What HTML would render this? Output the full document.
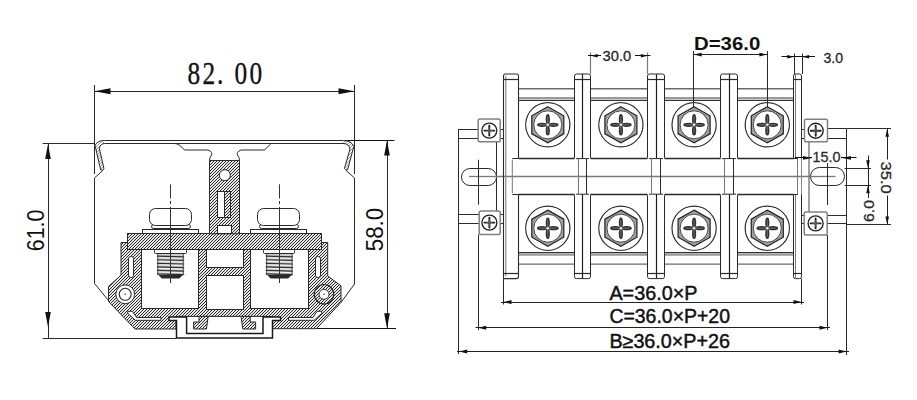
<!DOCTYPE html>
<html><head><meta charset="utf-8"><style>
html,body{margin:0;padding:0;background:#fff;}
svg{display:block;}
</style></head><body>
<svg width="917" height="400" viewBox="0 0 917 400" shape-rendering="geometricPrecision">
<defs>
<pattern id="h" width="3" height="3" patternUnits="userSpaceOnUse">
<rect width="3" height="3" fill="#e8e8e8"/>
<path d="M0,3 L3,0 M-1,1 L1,-1 M2,4 L4,2" stroke="#2a2a2a" stroke-width="1" shape-rendering="crispEdges"/>
</pattern>
</defs>
<rect width="917" height="400" fill="#fff"/>
<line x1="94.5" y1="85" x2="94.5" y2="143" stroke="#2a2a2a" stroke-width="1" />
<line x1="354.5" y1="85" x2="354.5" y2="140" stroke="#2a2a2a" stroke-width="1" />
<line x1="94.5" y1="91.5" x2="354.5" y2="91.5" stroke="#222" stroke-width="1" />
<polygon points="94.5,91.3 110.5,88.3 110.5,94.3" fill="#111"/>
<polygon points="354.5,91.3 338.5,88.3 338.5,94.3" fill="#111"/>
<text x="0" y="0" transform="translate(187.6,84) scale(0.78,1)" font-family="Liberation Serif" font-size="32.5" fill="#111" stroke="#111" stroke-width="0.35">8</text>
<text x="0" y="0" transform="translate(202.6,84) scale(0.78,1)" font-family="Liberation Serif" font-size="32.5" fill="#111" stroke="#111" stroke-width="0.35">2</text>
<text x="0" y="0" transform="translate(217,84) scale(0.78,1)" font-family="Liberation Serif" font-size="32.5" fill="#111" stroke="#111" stroke-width="0.35">.</text>
<text x="0" y="0" transform="translate(234.4,84) scale(0.78,1)" font-family="Liberation Serif" font-size="32.5" fill="#111" stroke="#111" stroke-width="0.35">0</text>
<text x="0" y="0" transform="translate(249.4,84) scale(0.78,1)" font-family="Liberation Serif" font-size="32.5" fill="#111" stroke="#111" stroke-width="0.35">0</text>
<line x1="42.7" y1="143.5" x2="94.5" y2="143.5" stroke="#2a2a2a" stroke-width="1" />
<line x1="42.7" y1="338.5" x2="176.5" y2="338.5" stroke="#2a2a2a" stroke-width="1" />
<line x1="48.5" y1="143.6" x2="48.5" y2="338" stroke="#2a2a2a" stroke-width="1" />
<polygon points="48,144 45.2,159 50.8,159" fill="#111"/>
<polygon points="48,327 45.2,312 50.8,312" fill="#111"/>
<text transform="translate(43.6,251.3) rotate(-90)" font-family="Liberation Sans" font-size="24" fill="#111" textLength="41.8" lengthAdjust="spacingAndGlyphs">61.0</text>
<line x1="345" y1="140.5" x2="394.5" y2="140.5" stroke="#111" stroke-width="1" />
<line x1="316" y1="328.5" x2="396" y2="328.5" stroke="#111" stroke-width="1" />
<line x1="387.5" y1="140" x2="387.5" y2="328.8" stroke="#2a2a2a" stroke-width="1" />
<polygon points="387,140 384.2,155.5 389.8,155.5" fill="#111"/>
<polygon points="387,328.3 384.2,313.3 389.8,313.3" fill="#111"/>
<text transform="translate(383.2,251.3) rotate(-90)" font-family="Liberation Sans" font-size="24" fill="#111" textLength="43.6" lengthAdjust="spacingAndGlyphs">58.0</text>
<line x1="94.5" y1="143" x2="94.5" y2="174" stroke="#2a2a2a" stroke-width="1" />
<line x1="94.5" y1="178" x2="94.5" y2="283.5" stroke="#2a2a2a" stroke-width="1" />
<line x1="94.5" y1="283.5" x2="108.5" y2="300.5" stroke="#2a2a2a" stroke-width="1" />
<line x1="103" y1="170.4" x2="94.5" y2="177.9" stroke="#2a2a2a" stroke-width="1" />
<line x1="354.5" y1="140" x2="354.5" y2="174" stroke="#2a2a2a" stroke-width="1" />
<line x1="354.5" y1="178" x2="354.5" y2="284" stroke="#2a2a2a" stroke-width="1" />
<line x1="354.5" y1="284" x2="341" y2="302.4" stroke="#2a2a2a" stroke-width="1" />
<line x1="346" y1="170.4" x2="354.5" y2="177.9" stroke="#2a2a2a" stroke-width="1" />
<path d="M104.3,140.5 H343.5" fill="none" stroke="#2a2a2a" stroke-width="1" />
<path d="M104.8,143.5 H343.2" fill="none" stroke="#2a2a2a" stroke-width="1" />
<path d="M174.8,143.5 Q179,143.5 184.5,150 H208 Q213,152 211.5,155 Q209.5,157.5 209.5,160.5 H239.5 Q239.5,157.5 237.5,155 Q236,152 241,150 H264.6 L271,143.5" fill="none" stroke="#2a2a2a" stroke-width="1" />
<path d="M271,143.5 H345" fill="none" stroke="#2a2a2a" stroke-width="1" />
<path d="M104.3,140.5 Q97.5,140.5 95,145.4 L100.7,170 Q102.8,170.6 104,168.8 L99.3,148.3 Q100.5,143.5 104.8,143.5" fill="url(#h)" stroke="#2a2a2a" stroke-width="1" fill-opacity="0.45"/>
<path d="M343.5,140.5 Q351.5,140.5 353.8,146.5 L347.6,169.8 Q345.5,170.6 344.4,168.6 L350,149 Q348.6,143.5 343.2,143.5" fill="url(#h)" stroke="#2a2a2a" stroke-width="1" fill-opacity="0.45"/>
<path d="M121,242.5 H327.7 V276 L341,285.8 V302.4 L316.4,328.7 H272.5 V316.4 H176 V329 H135 L108.5,301.5 V286.5 L121,275.2 Z" fill="url(#h)" stroke="#2a2a2a" stroke-width="1" />
<path d="M199,316.4 H208.2 L206.4,329 H193.6 V322 H199 Z" fill="url(#h)" stroke="#2a2a2a" stroke-width="1" />
<path d="M250.2,316.4 H241 L242.8,329 H255.6 V322 H250.2 Z" fill="url(#h)" stroke="#2a2a2a" stroke-width="1" />
<rect x="141.5" y="249.5" width="57.0" height="59.0" rx="0" fill="#fff" stroke="#2a2a2a" stroke-width="1"/>
<rect x="250.5" y="249.5" width="58.0" height="59.0" rx="0" fill="#fff" stroke="#2a2a2a" stroke-width="1"/>
<rect x="206.5" y="249.5" width="37.0" height="18.0" rx="0" fill="#fff" stroke="#2a2a2a" stroke-width="1"/>
<rect x="206.5" y="275.5" width="37.0" height="34.0" rx="0" fill="#fff" stroke="#2a2a2a" stroke-width="1"/>
<circle cx="125.2" cy="294.3" r="9.4" fill="#fff" stroke="#2a2a2a" stroke-width="1"/>
<circle cx="125.2" cy="294.3" r="6.0" fill="none" stroke="#2a2a2a" stroke-width="1.1"/>
<circle cx="125.2" cy="294.3" r="0.8" fill="#444" stroke="none" stroke-width="1"/>
<circle cx="324.0" cy="294.3" r="9.8" fill="none" stroke="#222" stroke-width="1.2"/>
<circle cx="324.0" cy="294.3" r="5.0" fill="#fff" stroke="#333" stroke-width="1"/>
<circle cx="324.0" cy="294.3" r="0.8" fill="#444" stroke="none" stroke-width="1"/>
<rect x="128.5" y="256.5" width="5.0" height="21.0" rx="2.3" fill="#fff" stroke="#2a2a2a" stroke-width="1"/>
<rect x="315.5" y="256.5" width="5.0" height="21.0" rx="2.3" fill="#fff" stroke="#2a2a2a" stroke-width="1"/>
<path d="M127.8,311.3 H132.4 L136.6,317.5 H161 V320.3 H135.4 L127.8,313.4 Z" fill="#fff" stroke="#2a2a2a" stroke-width="1" />
<path d="M321.7,311.3 H317.1 L312.9,317.5 H288.5 V320.3 H314.1 L321.7,313.4 Z" fill="#fff" stroke="#2a2a2a" stroke-width="1" />
<rect x="127.5" y="233.5" width="194.0" height="16.0" rx="0" fill="url(#h)" stroke="#2a2a2a" stroke-width="1"/>
<path d="M209.5,160.5 H239.5 V233.8 H209.5 Z" fill="url(#h)" stroke="#2a2a2a" stroke-width="1" />
<circle cx="224.8" cy="175.2" r="5.5" fill="#fff" stroke="#2a2a2a" stroke-width="1"/>
<rect x="217.5" y="191.5" width="13.0" height="26.0" rx="0" fill="#fff" stroke="#2a2a2a" stroke-width="1"/>
<rect x="224.5" y="191.5" width="6.0" height="26.0" rx="0" fill="url(#h)" stroke="#2a2a2a" stroke-width="1"/>
<rect x="217.5" y="225.5" width="14.0" height="8.0" rx="0" fill="#fff" stroke="#2a2a2a" stroke-width="1"/>
<rect x="142.5" y="229.5" width="56.0" height="4.0" rx="0" fill="#fff" stroke="#2a2a2a" stroke-width="1"/>
<rect x="250.5" y="229.5" width="56.0" height="4.0" rx="0" fill="#fff" stroke="#2a2a2a" stroke-width="1"/>
<rect x="151.5" y="224.5" width="39.0" height="4.0" rx="2" fill="#fff" stroke="#2a2a2a" stroke-width="1"/>
<rect x="149.5" y="208.5" width="42.0" height="17.0" rx="6" fill="#fff" stroke="#2a2a2a" stroke-width="1"/>
<rect x="259.5" y="224.5" width="39.0" height="4.0" rx="2" fill="#fff" stroke="#2a2a2a" stroke-width="1"/>
<rect x="257.5" y="208.5" width="42.0" height="17.0" rx="6" fill="#fff" stroke="#2a2a2a" stroke-width="1"/>
<rect x="154.5" y="249.5" width="32.0" height="4.0" rx="1" fill="#fff" stroke="#2a2a2a" stroke-width="1"/>
<rect x="157.8" y="254" width="25.5" height="21" fill="#cdcdcd"/>
<path d="M156.9,256.2 L184.20000000000002,256.9" stroke="#2e2e2e" stroke-width="1.25"/>
<path d="M158.8,257.8 L182.3,258.4" stroke="#f4f4f4" stroke-width="0.9"/>
<path d="M156.9,259.75 L184.20000000000002,260.45" stroke="#2e2e2e" stroke-width="1.25"/>
<path d="M158.8,261.35 L182.3,261.95" stroke="#f4f4f4" stroke-width="0.9"/>
<path d="M156.9,263.3 L184.20000000000002,264.0" stroke="#2e2e2e" stroke-width="1.25"/>
<path d="M158.8,264.90000000000003 L182.3,265.5" stroke="#f4f4f4" stroke-width="0.9"/>
<path d="M156.9,266.84999999999997 L184.20000000000002,267.54999999999995" stroke="#2e2e2e" stroke-width="1.25"/>
<path d="M158.8,268.45 L182.3,269.04999999999995" stroke="#f4f4f4" stroke-width="0.9"/>
<path d="M156.9,270.4 L184.20000000000002,271.09999999999997" stroke="#2e2e2e" stroke-width="1.25"/>
<path d="M158.8,272.0 L182.3,272.59999999999997" stroke="#f4f4f4" stroke-width="0.9"/>
<path d="M156.9,273.95 L184.20000000000002,274.65" stroke="#2e2e2e" stroke-width="1.25"/>
<path d="M158.8,275.55 L182.3,276.15" stroke="#f4f4f4" stroke-width="0.9"/>
<path d="M157.8,254 V275 M183.3,254 V275" stroke="#444" stroke-width="0.9"/>
<polygon points="158.3,275 182.8,275 179.3,278.6 161.8,278.6" fill="#2a2a2a"/>
<rect x="263.5" y="249.5" width="31.0" height="4.0" rx="1" fill="#fff" stroke="#2a2a2a" stroke-width="1"/>
<rect x="266.59999999999997" y="254" width="25.5" height="21" fill="#cdcdcd"/>
<path d="M265.7,256.2 L292.99999999999994,256.9" stroke="#2e2e2e" stroke-width="1.25"/>
<path d="M267.59999999999997,257.8 L291.09999999999997,258.4" stroke="#f4f4f4" stroke-width="0.9"/>
<path d="M265.7,259.75 L292.99999999999994,260.45" stroke="#2e2e2e" stroke-width="1.25"/>
<path d="M267.59999999999997,261.35 L291.09999999999997,261.95" stroke="#f4f4f4" stroke-width="0.9"/>
<path d="M265.7,263.3 L292.99999999999994,264.0" stroke="#2e2e2e" stroke-width="1.25"/>
<path d="M267.59999999999997,264.90000000000003 L291.09999999999997,265.5" stroke="#f4f4f4" stroke-width="0.9"/>
<path d="M265.7,266.84999999999997 L292.99999999999994,267.54999999999995" stroke="#2e2e2e" stroke-width="1.25"/>
<path d="M267.59999999999997,268.45 L291.09999999999997,269.04999999999995" stroke="#f4f4f4" stroke-width="0.9"/>
<path d="M265.7,270.4 L292.99999999999994,271.09999999999997" stroke="#2e2e2e" stroke-width="1.25"/>
<path d="M267.59999999999997,272.0 L291.09999999999997,272.59999999999997" stroke="#f4f4f4" stroke-width="0.9"/>
<path d="M265.7,273.95 L292.99999999999994,274.65" stroke="#2e2e2e" stroke-width="1.25"/>
<path d="M267.59999999999997,275.55 L291.09999999999997,276.15" stroke="#f4f4f4" stroke-width="0.9"/>
<path d="M266.59999999999997,254 V275 M292.09999999999997,254 V275" stroke="#444" stroke-width="0.9"/>
<polygon points="267.09999999999997,275 291.59999999999997,275 288.09999999999997,278.6 270.59999999999997,278.6" fill="#2a2a2a"/>
<line x1="170.5" y1="184.3" x2="170.5" y2="198.5" stroke="#333" stroke-width="1" />
<line x1="170.5" y1="201" x2="170.5" y2="204.2" stroke="#333" stroke-width="1" />
<line x1="170.5" y1="207" x2="170.5" y2="283" stroke="#333" stroke-width="1" />
<line x1="279.5" y1="184.3" x2="279.5" y2="198.5" stroke="#333" stroke-width="1" />
<line x1="279.5" y1="201" x2="279.5" y2="204.2" stroke="#333" stroke-width="1" />
<line x1="279.5" y1="207" x2="279.5" y2="283" stroke="#333" stroke-width="1" />
<path d="M169,317 H186.6 V333.5 H263 V317 H280.5 V320.5 H272.5 V338 H176.5 V320.5 H169 Z" fill="#fff" stroke="#1a1a1a" stroke-width="1.5" />
<line x1="518.5" y1="88.7" x2="574.5" y2="88.7" stroke="#6a6a6a" stroke-width="1.4" />
<line x1="518.5" y1="264.1" x2="574.5" y2="264.1" stroke="#6a6a6a" stroke-width="1.4" />
<line x1="518.5" y1="98.3" x2="574.5" y2="98.3" stroke="#9a9a9a" stroke-width="2.6" />
<line x1="518.5" y1="254.5" x2="574.5" y2="254.5" stroke="#9a9a9a" stroke-width="2.6" />
<line x1="518.5" y1="100.5" x2="574.5" y2="100.5" stroke="#333" stroke-width="1" />
<line x1="518.5" y1="252.5" x2="574.5" y2="252.5" stroke="#333" stroke-width="1" />
<line x1="518.5" y1="158.5" x2="574.5" y2="158.5" stroke="#2a2a2a" stroke-width="1.3" />
<line x1="518.5" y1="194.5" x2="574.5" y2="194.5" stroke="#2a2a2a" stroke-width="1.3" />
<line x1="590.5" y1="88.7" x2="647.5" y2="88.7" stroke="#6a6a6a" stroke-width="1.4" />
<line x1="590.5" y1="264.1" x2="647.5" y2="264.1" stroke="#6a6a6a" stroke-width="1.4" />
<line x1="590.5" y1="98.3" x2="647.5" y2="98.3" stroke="#9a9a9a" stroke-width="2.6" />
<line x1="590.5" y1="254.5" x2="647.5" y2="254.5" stroke="#9a9a9a" stroke-width="2.6" />
<line x1="590.5" y1="100.5" x2="647.5" y2="100.5" stroke="#333" stroke-width="1" />
<line x1="590.5" y1="252.5" x2="647.5" y2="252.5" stroke="#333" stroke-width="1" />
<line x1="590.5" y1="158.5" x2="647.5" y2="158.5" stroke="#2a2a2a" stroke-width="1.3" />
<line x1="590.5" y1="194.5" x2="647.5" y2="194.5" stroke="#2a2a2a" stroke-width="1.3" />
<line x1="664.5" y1="88.7" x2="720.5" y2="88.7" stroke="#6a6a6a" stroke-width="1.4" />
<line x1="664.5" y1="264.1" x2="720.5" y2="264.1" stroke="#6a6a6a" stroke-width="1.4" />
<line x1="664.5" y1="98.3" x2="720.5" y2="98.3" stroke="#9a9a9a" stroke-width="2.6" />
<line x1="664.5" y1="254.5" x2="720.5" y2="254.5" stroke="#9a9a9a" stroke-width="2.6" />
<line x1="664.5" y1="100.5" x2="720.5" y2="100.5" stroke="#333" stroke-width="1" />
<line x1="664.5" y1="252.5" x2="720.5" y2="252.5" stroke="#333" stroke-width="1" />
<line x1="664.5" y1="158.5" x2="720.5" y2="158.5" stroke="#2a2a2a" stroke-width="1.3" />
<line x1="664.5" y1="194.5" x2="720.5" y2="194.5" stroke="#2a2a2a" stroke-width="1.3" />
<line x1="737.5" y1="88.7" x2="793.5" y2="88.7" stroke="#6a6a6a" stroke-width="1.4" />
<line x1="737.5" y1="264.1" x2="793.5" y2="264.1" stroke="#6a6a6a" stroke-width="1.4" />
<line x1="737.5" y1="98.3" x2="793.5" y2="98.3" stroke="#9a9a9a" stroke-width="2.6" />
<line x1="737.5" y1="254.5" x2="793.5" y2="254.5" stroke="#9a9a9a" stroke-width="2.6" />
<line x1="737.5" y1="100.5" x2="793.5" y2="100.5" stroke="#333" stroke-width="1" />
<line x1="737.5" y1="252.5" x2="793.5" y2="252.5" stroke="#333" stroke-width="1" />
<line x1="737.5" y1="158.5" x2="793.5" y2="158.5" stroke="#2a2a2a" stroke-width="1.3" />
<line x1="737.5" y1="194.5" x2="793.5" y2="194.5" stroke="#2a2a2a" stroke-width="1.3" />
<line x1="512.3" y1="158.5" x2="518.2" y2="158.5" stroke="#2a2a2a" stroke-width="1" />
<line x1="512.3" y1="194.5" x2="518.2" y2="194.5" stroke="#2a2a2a" stroke-width="1" />
<path d="M512.3,159.6 V193.2" fill="none" stroke="#777" stroke-width="1" />
<line x1="470" y1="176.5" x2="836" y2="176.5" stroke="#7a7a7a" stroke-width="1.3" />
<path d="M503.5,278.6 V76 Q503.5,74 505.5,74 H516.5 Q518.5,74 518.5,76 V158.6" fill="none" stroke="#2a2a2a" stroke-width="1.1" />
<path d="M518.5,194.2 V276.6 Q518.5,278.6 516.5,278.6 H503.5" fill="none" stroke="#2a2a2a" stroke-width="1.1" />
<line x1="505.7" y1="76" x2="505.7" y2="276.6" stroke="#999" stroke-width="1.4" />
<line x1="503.5" y1="79.5" x2="518.5" y2="79.5" stroke="#2a2a2a" stroke-width="1.2" />
<line x1="503.5" y1="273.5" x2="518.5" y2="273.5" stroke="#2a2a2a" stroke-width="1.2" />
<path d="M574.5,157.1 V76 Q574.5,74 576.5,74 H588.5 Q590.5,74 590.5,76 V157.1 Q590.5,158.6 592.0,158.6 M574.5,157.1 Q574.5,158.6 573.0,158.6 M576.0,158.6 H589.0" fill="none" stroke="#2a2a2a" stroke-width="1" />
<line x1="574.5" y1="79.5" x2="590.5" y2="79.5" stroke="#2a2a2a" stroke-width="1.2" />
<line x1="582.5" y1="74" x2="582.5" y2="158.6" stroke="#1e1e1e" stroke-width="1.2" />
<path d="M574.5,195.7 V276.6 Q574.5,278.6 576.5,278.6 H588.5 Q590.5,278.6 590.5,276.6 V195.7 Q590.5,194.2 592.0,194.2 M574.5,195.7 Q574.5,194.2 573.0,194.2 M576.0,194.2 H589.0" fill="none" stroke="#2a2a2a" stroke-width="1" />
<line x1="574.5" y1="273.5" x2="590.5" y2="273.5" stroke="#2a2a2a" stroke-width="1.2" />
<line x1="582.5" y1="194.2" x2="582.5" y2="278.6" stroke="#1e1e1e" stroke-width="1.2" />
<line x1="578.5" y1="158.6" x2="578.5" y2="194.2" stroke="#7a7a7a" stroke-width="1.1" />
<line x1="586.5" y1="158.6" x2="586.5" y2="194.2" stroke="#2a2a2a" stroke-width="1" />
<path d="M647.5,157.1 V76 Q647.5,74 649.5,74 H662.5 Q664.5,74 664.5,76 V157.1 Q664.5,158.6 666.0,158.6 M647.5,157.1 Q647.5,158.6 646.0,158.6 M649.0,158.6 H663.0" fill="none" stroke="#2a2a2a" stroke-width="1" />
<line x1="647.5" y1="79.5" x2="664.5" y2="79.5" stroke="#2a2a2a" stroke-width="1.2" />
<line x1="656.5" y1="74" x2="656.5" y2="158.6" stroke="#1e1e1e" stroke-width="1.2" />
<path d="M647.5,195.7 V276.6 Q647.5,278.6 649.5,278.6 H662.5 Q664.5,278.6 664.5,276.6 V195.7 Q664.5,194.2 666.0,194.2 M647.5,195.7 Q647.5,194.2 646.0,194.2 M649.0,194.2 H663.0" fill="none" stroke="#2a2a2a" stroke-width="1" />
<line x1="647.5" y1="273.5" x2="664.5" y2="273.5" stroke="#2a2a2a" stroke-width="1.2" />
<line x1="656.5" y1="194.2" x2="656.5" y2="278.6" stroke="#1e1e1e" stroke-width="1.2" />
<line x1="651.5" y1="158.6" x2="651.5" y2="194.2" stroke="#7a7a7a" stroke-width="1.1" />
<line x1="660.5" y1="158.6" x2="660.5" y2="194.2" stroke="#2a2a2a" stroke-width="1" />
<path d="M720.5,157.1 V76 Q720.5,74 722.5,74 H735.5 Q737.5,74 737.5,76 V157.1 Q737.5,158.6 739.0,158.6 M720.5,157.1 Q720.5,158.6 719.0,158.6 M722.0,158.6 H736.0" fill="none" stroke="#2a2a2a" stroke-width="1" />
<line x1="720.5" y1="79.5" x2="737.5" y2="79.5" stroke="#2a2a2a" stroke-width="1.2" />
<line x1="729.5" y1="74" x2="729.5" y2="158.6" stroke="#1e1e1e" stroke-width="1.2" />
<path d="M720.5,195.7 V276.6 Q720.5,278.6 722.5,278.6 H735.5 Q737.5,278.6 737.5,276.6 V195.7 Q737.5,194.2 739.0,194.2 M720.5,195.7 Q720.5,194.2 719.0,194.2 M722.0,194.2 H736.0" fill="none" stroke="#2a2a2a" stroke-width="1" />
<line x1="720.5" y1="273.5" x2="737.5" y2="273.5" stroke="#2a2a2a" stroke-width="1.2" />
<line x1="729.5" y1="194.2" x2="729.5" y2="278.6" stroke="#1e1e1e" stroke-width="1.2" />
<line x1="724.5" y1="158.6" x2="724.5" y2="194.2" stroke="#7a7a7a" stroke-width="1.1" />
<line x1="733.5" y1="158.6" x2="733.5" y2="194.2" stroke="#2a2a2a" stroke-width="1" />
<path d="M793.5,158.6 V76 Q793.5,74 795.5,74 H799.5 Q801.5,74 801.5,76 V158.6" fill="none" stroke="#2a2a2a" stroke-width="1" />
<path d="M793.5,194.2 V276.6 Q793.5,278.6 795.5,278.6 H799.5 Q801.5,278.6 801.5,276.6 V194.2" fill="none" stroke="#2a2a2a" stroke-width="1" />
<line x1="795.5" y1="74" x2="795.5" y2="158.6" stroke="#7a7a7a" stroke-width="1" />
<line x1="795.5" y1="194.2" x2="795.5" y2="278.6" stroke="#7a7a7a" stroke-width="1" />
<line x1="801.5" y1="158.6" x2="801.5" y2="194.2" stroke="#888" stroke-width="1" />
<line x1="793.5" y1="79.5" x2="801.5" y2="79.5" stroke="#2a2a2a" stroke-width="1.2" />
<line x1="793.5" y1="273.5" x2="801.5" y2="273.5" stroke="#2a2a2a" stroke-width="1.2" />
<circle cx="547.8" cy="124.8" r="22.1" fill="none" stroke="#333" stroke-width="1.25"/>
<polygon points="547.80,106.70 563.80,115.75 563.80,133.85 547.80,142.90 531.80,133.85 531.80,115.75" fill="#8e8e8e" stroke="none"/>
<line x1="561.27" y1="125.68" x2="566.76" y2="126.04" stroke="#c8c8c8" stroke-width="0.7"/>
<line x1="561.04" y1="127.43" x2="566.43" y2="128.51" stroke="#c8c8c8" stroke-width="0.7"/>
<line x1="560.58" y1="129.14" x2="565.79" y2="130.91" stroke="#c8c8c8" stroke-width="0.7"/>
<line x1="559.91" y1="130.77" x2="564.84" y2="133.20" stroke="#c8c8c8" stroke-width="0.7"/>
<line x1="559.02" y1="132.30" x2="563.60" y2="135.36" stroke="#c8c8c8" stroke-width="0.7"/>
<line x1="557.95" y1="133.70" x2="562.08" y2="137.33" stroke="#c8c8c8" stroke-width="0.7"/>
<line x1="556.70" y1="134.95" x2="560.33" y2="139.08" stroke="#c8c8c8" stroke-width="0.7"/>
<line x1="555.30" y1="136.02" x2="558.36" y2="140.60" stroke="#c8c8c8" stroke-width="0.7"/>
<line x1="553.77" y1="136.91" x2="556.20" y2="141.84" stroke="#c8c8c8" stroke-width="0.7"/>
<line x1="552.14" y1="137.58" x2="553.91" y2="142.79" stroke="#c8c8c8" stroke-width="0.7"/>
<line x1="550.43" y1="138.04" x2="551.51" y2="143.43" stroke="#c8c8c8" stroke-width="0.7"/>
<line x1="548.68" y1="138.27" x2="549.04" y2="143.76" stroke="#c8c8c8" stroke-width="0.7"/>
<line x1="546.92" y1="138.27" x2="546.56" y2="143.76" stroke="#c8c8c8" stroke-width="0.7"/>
<line x1="545.17" y1="138.04" x2="544.09" y2="143.43" stroke="#c8c8c8" stroke-width="0.7"/>
<line x1="543.46" y1="137.58" x2="541.69" y2="142.79" stroke="#c8c8c8" stroke-width="0.7"/>
<line x1="541.83" y1="136.91" x2="539.40" y2="141.84" stroke="#c8c8c8" stroke-width="0.7"/>
<line x1="540.30" y1="136.02" x2="537.24" y2="140.60" stroke="#c8c8c8" stroke-width="0.7"/>
<line x1="538.90" y1="134.95" x2="535.27" y2="139.08" stroke="#c8c8c8" stroke-width="0.7"/>
<line x1="537.65" y1="133.70" x2="533.52" y2="137.33" stroke="#c8c8c8" stroke-width="0.7"/>
<line x1="536.58" y1="132.30" x2="532.00" y2="135.36" stroke="#c8c8c8" stroke-width="0.7"/>
<line x1="535.69" y1="130.77" x2="530.76" y2="133.20" stroke="#c8c8c8" stroke-width="0.7"/>
<line x1="535.02" y1="129.14" x2="529.81" y2="130.91" stroke="#c8c8c8" stroke-width="0.7"/>
<line x1="534.56" y1="127.43" x2="529.17" y2="128.51" stroke="#c8c8c8" stroke-width="0.7"/>
<line x1="534.33" y1="125.68" x2="528.84" y2="126.04" stroke="#c8c8c8" stroke-width="0.7"/>
<line x1="534.33" y1="123.92" x2="528.84" y2="123.56" stroke="#c8c8c8" stroke-width="0.7"/>
<line x1="534.56" y1="122.17" x2="529.17" y2="121.09" stroke="#c8c8c8" stroke-width="0.7"/>
<line x1="535.02" y1="120.46" x2="529.81" y2="118.69" stroke="#c8c8c8" stroke-width="0.7"/>
<line x1="535.69" y1="118.83" x2="530.76" y2="116.40" stroke="#c8c8c8" stroke-width="0.7"/>
<line x1="536.58" y1="117.30" x2="532.00" y2="114.24" stroke="#c8c8c8" stroke-width="0.7"/>
<line x1="537.65" y1="115.90" x2="533.52" y2="112.27" stroke="#c8c8c8" stroke-width="0.7"/>
<line x1="538.90" y1="114.65" x2="535.27" y2="110.52" stroke="#c8c8c8" stroke-width="0.7"/>
<line x1="540.30" y1="113.58" x2="537.24" y2="109.00" stroke="#c8c8c8" stroke-width="0.7"/>
<line x1="541.83" y1="112.69" x2="539.40" y2="107.76" stroke="#c8c8c8" stroke-width="0.7"/>
<line x1="543.46" y1="112.02" x2="541.69" y2="106.81" stroke="#c8c8c8" stroke-width="0.7"/>
<line x1="545.17" y1="111.56" x2="544.09" y2="106.17" stroke="#c8c8c8" stroke-width="0.7"/>
<line x1="546.92" y1="111.33" x2="546.56" y2="105.84" stroke="#c8c8c8" stroke-width="0.7"/>
<line x1="548.68" y1="111.33" x2="549.04" y2="105.84" stroke="#c8c8c8" stroke-width="0.7"/>
<line x1="550.43" y1="111.56" x2="551.51" y2="106.17" stroke="#c8c8c8" stroke-width="0.7"/>
<line x1="552.14" y1="112.02" x2="553.91" y2="106.81" stroke="#c8c8c8" stroke-width="0.7"/>
<line x1="553.77" y1="112.69" x2="556.20" y2="107.76" stroke="#c8c8c8" stroke-width="0.7"/>
<line x1="555.30" y1="113.58" x2="558.36" y2="109.00" stroke="#c8c8c8" stroke-width="0.7"/>
<line x1="556.70" y1="114.65" x2="560.33" y2="110.52" stroke="#c8c8c8" stroke-width="0.7"/>
<line x1="557.95" y1="115.90" x2="562.08" y2="112.27" stroke="#c8c8c8" stroke-width="0.7"/>
<line x1="559.02" y1="117.30" x2="563.60" y2="114.24" stroke="#c8c8c8" stroke-width="0.7"/>
<line x1="559.91" y1="118.83" x2="564.84" y2="116.40" stroke="#c8c8c8" stroke-width="0.7"/>
<line x1="560.58" y1="120.46" x2="565.79" y2="118.69" stroke="#c8c8c8" stroke-width="0.7"/>
<line x1="561.04" y1="122.17" x2="566.43" y2="121.09" stroke="#c8c8c8" stroke-width="0.7"/>
<line x1="561.27" y1="123.92" x2="566.76" y2="123.56" stroke="#c8c8c8" stroke-width="0.7"/>
<path d="M526.5999999999999,124.8 A21.2,21.2 0 1,0 569.0,124.8 A21.2,21.2 0 1,0 526.5999999999999,124.8 Z M547.80,106.70 L563.80,115.75 L563.80,133.85 L547.80,142.90 L531.80,133.85 L531.80,115.75 Z" fill="#fff" fill-rule="evenodd"/>
<polygon points="547.80,106.70 563.80,115.75 563.80,133.85 547.80,142.90 531.80,133.85 531.80,115.75" fill="none" stroke="#262626" stroke-width="1.25"/>
<circle cx="547.8" cy="124.8" r="14.0" fill="#fff" stroke="#3a3a3a" stroke-width="0.9"/>
<ellipse cx="553.40" cy="124.80" rx="5.2" ry="2.1" fill="#333"/>
<ellipse cx="542.20" cy="124.80" rx="5.2" ry="2.1" fill="#333"/>
<ellipse cx="547.80" cy="130.40" rx="2.1" ry="5.2" fill="#333"/>
<ellipse cx="547.80" cy="119.20" rx="2.1" ry="5.2" fill="#333"/>
<path d="M539.3,124.8 H556.3 M547.8,116.3 V133.3" stroke="#8a8a8a" stroke-width="0.7"/>
<circle cx="547.8" cy="124.8" r="1.3" fill="#e8e8e8"/>
<circle cx="547.8" cy="228.2" r="22.1" fill="none" stroke="#333" stroke-width="1.25"/>
<polygon points="547.80,210.10 563.80,219.15 563.80,237.25 547.80,246.30 531.80,237.25 531.80,219.15" fill="#8e8e8e" stroke="none"/>
<line x1="561.27" y1="229.08" x2="566.76" y2="229.44" stroke="#c8c8c8" stroke-width="0.7"/>
<line x1="561.04" y1="230.83" x2="566.43" y2="231.91" stroke="#c8c8c8" stroke-width="0.7"/>
<line x1="560.58" y1="232.54" x2="565.79" y2="234.31" stroke="#c8c8c8" stroke-width="0.7"/>
<line x1="559.91" y1="234.17" x2="564.84" y2="236.60" stroke="#c8c8c8" stroke-width="0.7"/>
<line x1="559.02" y1="235.70" x2="563.60" y2="238.76" stroke="#c8c8c8" stroke-width="0.7"/>
<line x1="557.95" y1="237.10" x2="562.08" y2="240.73" stroke="#c8c8c8" stroke-width="0.7"/>
<line x1="556.70" y1="238.35" x2="560.33" y2="242.48" stroke="#c8c8c8" stroke-width="0.7"/>
<line x1="555.30" y1="239.42" x2="558.36" y2="244.00" stroke="#c8c8c8" stroke-width="0.7"/>
<line x1="553.77" y1="240.31" x2="556.20" y2="245.24" stroke="#c8c8c8" stroke-width="0.7"/>
<line x1="552.14" y1="240.98" x2="553.91" y2="246.19" stroke="#c8c8c8" stroke-width="0.7"/>
<line x1="550.43" y1="241.44" x2="551.51" y2="246.83" stroke="#c8c8c8" stroke-width="0.7"/>
<line x1="548.68" y1="241.67" x2="549.04" y2="247.16" stroke="#c8c8c8" stroke-width="0.7"/>
<line x1="546.92" y1="241.67" x2="546.56" y2="247.16" stroke="#c8c8c8" stroke-width="0.7"/>
<line x1="545.17" y1="241.44" x2="544.09" y2="246.83" stroke="#c8c8c8" stroke-width="0.7"/>
<line x1="543.46" y1="240.98" x2="541.69" y2="246.19" stroke="#c8c8c8" stroke-width="0.7"/>
<line x1="541.83" y1="240.31" x2="539.40" y2="245.24" stroke="#c8c8c8" stroke-width="0.7"/>
<line x1="540.30" y1="239.42" x2="537.24" y2="244.00" stroke="#c8c8c8" stroke-width="0.7"/>
<line x1="538.90" y1="238.35" x2="535.27" y2="242.48" stroke="#c8c8c8" stroke-width="0.7"/>
<line x1="537.65" y1="237.10" x2="533.52" y2="240.73" stroke="#c8c8c8" stroke-width="0.7"/>
<line x1="536.58" y1="235.70" x2="532.00" y2="238.76" stroke="#c8c8c8" stroke-width="0.7"/>
<line x1="535.69" y1="234.17" x2="530.76" y2="236.60" stroke="#c8c8c8" stroke-width="0.7"/>
<line x1="535.02" y1="232.54" x2="529.81" y2="234.31" stroke="#c8c8c8" stroke-width="0.7"/>
<line x1="534.56" y1="230.83" x2="529.17" y2="231.91" stroke="#c8c8c8" stroke-width="0.7"/>
<line x1="534.33" y1="229.08" x2="528.84" y2="229.44" stroke="#c8c8c8" stroke-width="0.7"/>
<line x1="534.33" y1="227.32" x2="528.84" y2="226.96" stroke="#c8c8c8" stroke-width="0.7"/>
<line x1="534.56" y1="225.57" x2="529.17" y2="224.49" stroke="#c8c8c8" stroke-width="0.7"/>
<line x1="535.02" y1="223.86" x2="529.81" y2="222.09" stroke="#c8c8c8" stroke-width="0.7"/>
<line x1="535.69" y1="222.23" x2="530.76" y2="219.80" stroke="#c8c8c8" stroke-width="0.7"/>
<line x1="536.58" y1="220.70" x2="532.00" y2="217.64" stroke="#c8c8c8" stroke-width="0.7"/>
<line x1="537.65" y1="219.30" x2="533.52" y2="215.67" stroke="#c8c8c8" stroke-width="0.7"/>
<line x1="538.90" y1="218.05" x2="535.27" y2="213.92" stroke="#c8c8c8" stroke-width="0.7"/>
<line x1="540.30" y1="216.98" x2="537.24" y2="212.40" stroke="#c8c8c8" stroke-width="0.7"/>
<line x1="541.83" y1="216.09" x2="539.40" y2="211.16" stroke="#c8c8c8" stroke-width="0.7"/>
<line x1="543.46" y1="215.42" x2="541.69" y2="210.21" stroke="#c8c8c8" stroke-width="0.7"/>
<line x1="545.17" y1="214.96" x2="544.09" y2="209.57" stroke="#c8c8c8" stroke-width="0.7"/>
<line x1="546.92" y1="214.73" x2="546.56" y2="209.24" stroke="#c8c8c8" stroke-width="0.7"/>
<line x1="548.68" y1="214.73" x2="549.04" y2="209.24" stroke="#c8c8c8" stroke-width="0.7"/>
<line x1="550.43" y1="214.96" x2="551.51" y2="209.57" stroke="#c8c8c8" stroke-width="0.7"/>
<line x1="552.14" y1="215.42" x2="553.91" y2="210.21" stroke="#c8c8c8" stroke-width="0.7"/>
<line x1="553.77" y1="216.09" x2="556.20" y2="211.16" stroke="#c8c8c8" stroke-width="0.7"/>
<line x1="555.30" y1="216.98" x2="558.36" y2="212.40" stroke="#c8c8c8" stroke-width="0.7"/>
<line x1="556.70" y1="218.05" x2="560.33" y2="213.92" stroke="#c8c8c8" stroke-width="0.7"/>
<line x1="557.95" y1="219.30" x2="562.08" y2="215.67" stroke="#c8c8c8" stroke-width="0.7"/>
<line x1="559.02" y1="220.70" x2="563.60" y2="217.64" stroke="#c8c8c8" stroke-width="0.7"/>
<line x1="559.91" y1="222.23" x2="564.84" y2="219.80" stroke="#c8c8c8" stroke-width="0.7"/>
<line x1="560.58" y1="223.86" x2="565.79" y2="222.09" stroke="#c8c8c8" stroke-width="0.7"/>
<line x1="561.04" y1="225.57" x2="566.43" y2="224.49" stroke="#c8c8c8" stroke-width="0.7"/>
<line x1="561.27" y1="227.32" x2="566.76" y2="226.96" stroke="#c8c8c8" stroke-width="0.7"/>
<path d="M526.5999999999999,228.2 A21.2,21.2 0 1,0 569.0,228.2 A21.2,21.2 0 1,0 526.5999999999999,228.2 Z M547.80,210.10 L563.80,219.15 L563.80,237.25 L547.80,246.30 L531.80,237.25 L531.80,219.15 Z" fill="#fff" fill-rule="evenodd"/>
<polygon points="547.80,210.10 563.80,219.15 563.80,237.25 547.80,246.30 531.80,237.25 531.80,219.15" fill="none" stroke="#262626" stroke-width="1.25"/>
<circle cx="547.8" cy="228.2" r="14.0" fill="#fff" stroke="#3a3a3a" stroke-width="0.9"/>
<ellipse cx="553.40" cy="228.20" rx="5.2" ry="2.1" fill="#333"/>
<ellipse cx="542.20" cy="228.20" rx="5.2" ry="2.1" fill="#333"/>
<ellipse cx="547.80" cy="233.80" rx="2.1" ry="5.2" fill="#333"/>
<ellipse cx="547.80" cy="222.60" rx="2.1" ry="5.2" fill="#333"/>
<path d="M539.3,228.2 H556.3 M547.8,219.7 V236.7" stroke="#8a8a8a" stroke-width="0.7"/>
<circle cx="547.8" cy="228.2" r="1.3" fill="#e8e8e8"/>
<circle cx="620.9" cy="124.8" r="22.1" fill="none" stroke="#333" stroke-width="1.25"/>
<polygon points="620.90,106.70 636.90,115.75 636.90,133.85 620.90,142.90 604.90,133.85 604.90,115.75" fill="#8e8e8e" stroke="none"/>
<line x1="634.37" y1="125.68" x2="639.86" y2="126.04" stroke="#c8c8c8" stroke-width="0.7"/>
<line x1="634.14" y1="127.43" x2="639.53" y2="128.51" stroke="#c8c8c8" stroke-width="0.7"/>
<line x1="633.68" y1="129.14" x2="638.89" y2="130.91" stroke="#c8c8c8" stroke-width="0.7"/>
<line x1="633.01" y1="130.77" x2="637.94" y2="133.20" stroke="#c8c8c8" stroke-width="0.7"/>
<line x1="632.12" y1="132.30" x2="636.70" y2="135.36" stroke="#c8c8c8" stroke-width="0.7"/>
<line x1="631.05" y1="133.70" x2="635.18" y2="137.33" stroke="#c8c8c8" stroke-width="0.7"/>
<line x1="629.80" y1="134.95" x2="633.43" y2="139.08" stroke="#c8c8c8" stroke-width="0.7"/>
<line x1="628.40" y1="136.02" x2="631.46" y2="140.60" stroke="#c8c8c8" stroke-width="0.7"/>
<line x1="626.87" y1="136.91" x2="629.30" y2="141.84" stroke="#c8c8c8" stroke-width="0.7"/>
<line x1="625.24" y1="137.58" x2="627.01" y2="142.79" stroke="#c8c8c8" stroke-width="0.7"/>
<line x1="623.53" y1="138.04" x2="624.61" y2="143.43" stroke="#c8c8c8" stroke-width="0.7"/>
<line x1="621.78" y1="138.27" x2="622.14" y2="143.76" stroke="#c8c8c8" stroke-width="0.7"/>
<line x1="620.02" y1="138.27" x2="619.66" y2="143.76" stroke="#c8c8c8" stroke-width="0.7"/>
<line x1="618.27" y1="138.04" x2="617.19" y2="143.43" stroke="#c8c8c8" stroke-width="0.7"/>
<line x1="616.56" y1="137.58" x2="614.79" y2="142.79" stroke="#c8c8c8" stroke-width="0.7"/>
<line x1="614.93" y1="136.91" x2="612.50" y2="141.84" stroke="#c8c8c8" stroke-width="0.7"/>
<line x1="613.40" y1="136.02" x2="610.34" y2="140.60" stroke="#c8c8c8" stroke-width="0.7"/>
<line x1="612.00" y1="134.95" x2="608.37" y2="139.08" stroke="#c8c8c8" stroke-width="0.7"/>
<line x1="610.75" y1="133.70" x2="606.62" y2="137.33" stroke="#c8c8c8" stroke-width="0.7"/>
<line x1="609.68" y1="132.30" x2="605.10" y2="135.36" stroke="#c8c8c8" stroke-width="0.7"/>
<line x1="608.79" y1="130.77" x2="603.86" y2="133.20" stroke="#c8c8c8" stroke-width="0.7"/>
<line x1="608.12" y1="129.14" x2="602.91" y2="130.91" stroke="#c8c8c8" stroke-width="0.7"/>
<line x1="607.66" y1="127.43" x2="602.27" y2="128.51" stroke="#c8c8c8" stroke-width="0.7"/>
<line x1="607.43" y1="125.68" x2="601.94" y2="126.04" stroke="#c8c8c8" stroke-width="0.7"/>
<line x1="607.43" y1="123.92" x2="601.94" y2="123.56" stroke="#c8c8c8" stroke-width="0.7"/>
<line x1="607.66" y1="122.17" x2="602.27" y2="121.09" stroke="#c8c8c8" stroke-width="0.7"/>
<line x1="608.12" y1="120.46" x2="602.91" y2="118.69" stroke="#c8c8c8" stroke-width="0.7"/>
<line x1="608.79" y1="118.83" x2="603.86" y2="116.40" stroke="#c8c8c8" stroke-width="0.7"/>
<line x1="609.68" y1="117.30" x2="605.10" y2="114.24" stroke="#c8c8c8" stroke-width="0.7"/>
<line x1="610.75" y1="115.90" x2="606.62" y2="112.27" stroke="#c8c8c8" stroke-width="0.7"/>
<line x1="612.00" y1="114.65" x2="608.37" y2="110.52" stroke="#c8c8c8" stroke-width="0.7"/>
<line x1="613.40" y1="113.58" x2="610.34" y2="109.00" stroke="#c8c8c8" stroke-width="0.7"/>
<line x1="614.93" y1="112.69" x2="612.50" y2="107.76" stroke="#c8c8c8" stroke-width="0.7"/>
<line x1="616.56" y1="112.02" x2="614.79" y2="106.81" stroke="#c8c8c8" stroke-width="0.7"/>
<line x1="618.27" y1="111.56" x2="617.19" y2="106.17" stroke="#c8c8c8" stroke-width="0.7"/>
<line x1="620.02" y1="111.33" x2="619.66" y2="105.84" stroke="#c8c8c8" stroke-width="0.7"/>
<line x1="621.78" y1="111.33" x2="622.14" y2="105.84" stroke="#c8c8c8" stroke-width="0.7"/>
<line x1="623.53" y1="111.56" x2="624.61" y2="106.17" stroke="#c8c8c8" stroke-width="0.7"/>
<line x1="625.24" y1="112.02" x2="627.01" y2="106.81" stroke="#c8c8c8" stroke-width="0.7"/>
<line x1="626.87" y1="112.69" x2="629.30" y2="107.76" stroke="#c8c8c8" stroke-width="0.7"/>
<line x1="628.40" y1="113.58" x2="631.46" y2="109.00" stroke="#c8c8c8" stroke-width="0.7"/>
<line x1="629.80" y1="114.65" x2="633.43" y2="110.52" stroke="#c8c8c8" stroke-width="0.7"/>
<line x1="631.05" y1="115.90" x2="635.18" y2="112.27" stroke="#c8c8c8" stroke-width="0.7"/>
<line x1="632.12" y1="117.30" x2="636.70" y2="114.24" stroke="#c8c8c8" stroke-width="0.7"/>
<line x1="633.01" y1="118.83" x2="637.94" y2="116.40" stroke="#c8c8c8" stroke-width="0.7"/>
<line x1="633.68" y1="120.46" x2="638.89" y2="118.69" stroke="#c8c8c8" stroke-width="0.7"/>
<line x1="634.14" y1="122.17" x2="639.53" y2="121.09" stroke="#c8c8c8" stroke-width="0.7"/>
<line x1="634.37" y1="123.92" x2="639.86" y2="123.56" stroke="#c8c8c8" stroke-width="0.7"/>
<path d="M599.6999999999999,124.8 A21.2,21.2 0 1,0 642.1,124.8 A21.2,21.2 0 1,0 599.6999999999999,124.8 Z M620.90,106.70 L636.90,115.75 L636.90,133.85 L620.90,142.90 L604.90,133.85 L604.90,115.75 Z" fill="#fff" fill-rule="evenodd"/>
<polygon points="620.90,106.70 636.90,115.75 636.90,133.85 620.90,142.90 604.90,133.85 604.90,115.75" fill="none" stroke="#262626" stroke-width="1.25"/>
<circle cx="620.9" cy="124.8" r="14.0" fill="#fff" stroke="#3a3a3a" stroke-width="0.9"/>
<ellipse cx="626.50" cy="124.80" rx="5.2" ry="2.1" fill="#333"/>
<ellipse cx="615.30" cy="124.80" rx="5.2" ry="2.1" fill="#333"/>
<ellipse cx="620.90" cy="130.40" rx="2.1" ry="5.2" fill="#333"/>
<ellipse cx="620.90" cy="119.20" rx="2.1" ry="5.2" fill="#333"/>
<path d="M612.4,124.8 H629.4 M620.9,116.3 V133.3" stroke="#8a8a8a" stroke-width="0.7"/>
<circle cx="620.9" cy="124.8" r="1.3" fill="#e8e8e8"/>
<circle cx="620.9" cy="228.2" r="22.1" fill="none" stroke="#333" stroke-width="1.25"/>
<polygon points="620.90,210.10 636.90,219.15 636.90,237.25 620.90,246.30 604.90,237.25 604.90,219.15" fill="#8e8e8e" stroke="none"/>
<line x1="634.37" y1="229.08" x2="639.86" y2="229.44" stroke="#c8c8c8" stroke-width="0.7"/>
<line x1="634.14" y1="230.83" x2="639.53" y2="231.91" stroke="#c8c8c8" stroke-width="0.7"/>
<line x1="633.68" y1="232.54" x2="638.89" y2="234.31" stroke="#c8c8c8" stroke-width="0.7"/>
<line x1="633.01" y1="234.17" x2="637.94" y2="236.60" stroke="#c8c8c8" stroke-width="0.7"/>
<line x1="632.12" y1="235.70" x2="636.70" y2="238.76" stroke="#c8c8c8" stroke-width="0.7"/>
<line x1="631.05" y1="237.10" x2="635.18" y2="240.73" stroke="#c8c8c8" stroke-width="0.7"/>
<line x1="629.80" y1="238.35" x2="633.43" y2="242.48" stroke="#c8c8c8" stroke-width="0.7"/>
<line x1="628.40" y1="239.42" x2="631.46" y2="244.00" stroke="#c8c8c8" stroke-width="0.7"/>
<line x1="626.87" y1="240.31" x2="629.30" y2="245.24" stroke="#c8c8c8" stroke-width="0.7"/>
<line x1="625.24" y1="240.98" x2="627.01" y2="246.19" stroke="#c8c8c8" stroke-width="0.7"/>
<line x1="623.53" y1="241.44" x2="624.61" y2="246.83" stroke="#c8c8c8" stroke-width="0.7"/>
<line x1="621.78" y1="241.67" x2="622.14" y2="247.16" stroke="#c8c8c8" stroke-width="0.7"/>
<line x1="620.02" y1="241.67" x2="619.66" y2="247.16" stroke="#c8c8c8" stroke-width="0.7"/>
<line x1="618.27" y1="241.44" x2="617.19" y2="246.83" stroke="#c8c8c8" stroke-width="0.7"/>
<line x1="616.56" y1="240.98" x2="614.79" y2="246.19" stroke="#c8c8c8" stroke-width="0.7"/>
<line x1="614.93" y1="240.31" x2="612.50" y2="245.24" stroke="#c8c8c8" stroke-width="0.7"/>
<line x1="613.40" y1="239.42" x2="610.34" y2="244.00" stroke="#c8c8c8" stroke-width="0.7"/>
<line x1="612.00" y1="238.35" x2="608.37" y2="242.48" stroke="#c8c8c8" stroke-width="0.7"/>
<line x1="610.75" y1="237.10" x2="606.62" y2="240.73" stroke="#c8c8c8" stroke-width="0.7"/>
<line x1="609.68" y1="235.70" x2="605.10" y2="238.76" stroke="#c8c8c8" stroke-width="0.7"/>
<line x1="608.79" y1="234.17" x2="603.86" y2="236.60" stroke="#c8c8c8" stroke-width="0.7"/>
<line x1="608.12" y1="232.54" x2="602.91" y2="234.31" stroke="#c8c8c8" stroke-width="0.7"/>
<line x1="607.66" y1="230.83" x2="602.27" y2="231.91" stroke="#c8c8c8" stroke-width="0.7"/>
<line x1="607.43" y1="229.08" x2="601.94" y2="229.44" stroke="#c8c8c8" stroke-width="0.7"/>
<line x1="607.43" y1="227.32" x2="601.94" y2="226.96" stroke="#c8c8c8" stroke-width="0.7"/>
<line x1="607.66" y1="225.57" x2="602.27" y2="224.49" stroke="#c8c8c8" stroke-width="0.7"/>
<line x1="608.12" y1="223.86" x2="602.91" y2="222.09" stroke="#c8c8c8" stroke-width="0.7"/>
<line x1="608.79" y1="222.23" x2="603.86" y2="219.80" stroke="#c8c8c8" stroke-width="0.7"/>
<line x1="609.68" y1="220.70" x2="605.10" y2="217.64" stroke="#c8c8c8" stroke-width="0.7"/>
<line x1="610.75" y1="219.30" x2="606.62" y2="215.67" stroke="#c8c8c8" stroke-width="0.7"/>
<line x1="612.00" y1="218.05" x2="608.37" y2="213.92" stroke="#c8c8c8" stroke-width="0.7"/>
<line x1="613.40" y1="216.98" x2="610.34" y2="212.40" stroke="#c8c8c8" stroke-width="0.7"/>
<line x1="614.93" y1="216.09" x2="612.50" y2="211.16" stroke="#c8c8c8" stroke-width="0.7"/>
<line x1="616.56" y1="215.42" x2="614.79" y2="210.21" stroke="#c8c8c8" stroke-width="0.7"/>
<line x1="618.27" y1="214.96" x2="617.19" y2="209.57" stroke="#c8c8c8" stroke-width="0.7"/>
<line x1="620.02" y1="214.73" x2="619.66" y2="209.24" stroke="#c8c8c8" stroke-width="0.7"/>
<line x1="621.78" y1="214.73" x2="622.14" y2="209.24" stroke="#c8c8c8" stroke-width="0.7"/>
<line x1="623.53" y1="214.96" x2="624.61" y2="209.57" stroke="#c8c8c8" stroke-width="0.7"/>
<line x1="625.24" y1="215.42" x2="627.01" y2="210.21" stroke="#c8c8c8" stroke-width="0.7"/>
<line x1="626.87" y1="216.09" x2="629.30" y2="211.16" stroke="#c8c8c8" stroke-width="0.7"/>
<line x1="628.40" y1="216.98" x2="631.46" y2="212.40" stroke="#c8c8c8" stroke-width="0.7"/>
<line x1="629.80" y1="218.05" x2="633.43" y2="213.92" stroke="#c8c8c8" stroke-width="0.7"/>
<line x1="631.05" y1="219.30" x2="635.18" y2="215.67" stroke="#c8c8c8" stroke-width="0.7"/>
<line x1="632.12" y1="220.70" x2="636.70" y2="217.64" stroke="#c8c8c8" stroke-width="0.7"/>
<line x1="633.01" y1="222.23" x2="637.94" y2="219.80" stroke="#c8c8c8" stroke-width="0.7"/>
<line x1="633.68" y1="223.86" x2="638.89" y2="222.09" stroke="#c8c8c8" stroke-width="0.7"/>
<line x1="634.14" y1="225.57" x2="639.53" y2="224.49" stroke="#c8c8c8" stroke-width="0.7"/>
<line x1="634.37" y1="227.32" x2="639.86" y2="226.96" stroke="#c8c8c8" stroke-width="0.7"/>
<path d="M599.6999999999999,228.2 A21.2,21.2 0 1,0 642.1,228.2 A21.2,21.2 0 1,0 599.6999999999999,228.2 Z M620.90,210.10 L636.90,219.15 L636.90,237.25 L620.90,246.30 L604.90,237.25 L604.90,219.15 Z" fill="#fff" fill-rule="evenodd"/>
<polygon points="620.90,210.10 636.90,219.15 636.90,237.25 620.90,246.30 604.90,237.25 604.90,219.15" fill="none" stroke="#262626" stroke-width="1.25"/>
<circle cx="620.9" cy="228.2" r="14.0" fill="#fff" stroke="#3a3a3a" stroke-width="0.9"/>
<ellipse cx="626.50" cy="228.20" rx="5.2" ry="2.1" fill="#333"/>
<ellipse cx="615.30" cy="228.20" rx="5.2" ry="2.1" fill="#333"/>
<ellipse cx="620.90" cy="233.80" rx="2.1" ry="5.2" fill="#333"/>
<ellipse cx="620.90" cy="222.60" rx="2.1" ry="5.2" fill="#333"/>
<path d="M612.4,228.2 H629.4 M620.9,219.7 V236.7" stroke="#8a8a8a" stroke-width="0.7"/>
<circle cx="620.9" cy="228.2" r="1.3" fill="#e8e8e8"/>
<circle cx="694.1" cy="124.8" r="22.1" fill="none" stroke="#333" stroke-width="1.25"/>
<polygon points="694.10,106.70 710.10,115.75 710.10,133.85 694.10,142.90 678.10,133.85 678.10,115.75" fill="#8e8e8e" stroke="none"/>
<line x1="707.57" y1="125.68" x2="713.06" y2="126.04" stroke="#c8c8c8" stroke-width="0.7"/>
<line x1="707.34" y1="127.43" x2="712.73" y2="128.51" stroke="#c8c8c8" stroke-width="0.7"/>
<line x1="706.88" y1="129.14" x2="712.09" y2="130.91" stroke="#c8c8c8" stroke-width="0.7"/>
<line x1="706.21" y1="130.77" x2="711.14" y2="133.20" stroke="#c8c8c8" stroke-width="0.7"/>
<line x1="705.32" y1="132.30" x2="709.90" y2="135.36" stroke="#c8c8c8" stroke-width="0.7"/>
<line x1="704.25" y1="133.70" x2="708.38" y2="137.33" stroke="#c8c8c8" stroke-width="0.7"/>
<line x1="703.00" y1="134.95" x2="706.63" y2="139.08" stroke="#c8c8c8" stroke-width="0.7"/>
<line x1="701.60" y1="136.02" x2="704.66" y2="140.60" stroke="#c8c8c8" stroke-width="0.7"/>
<line x1="700.07" y1="136.91" x2="702.50" y2="141.84" stroke="#c8c8c8" stroke-width="0.7"/>
<line x1="698.44" y1="137.58" x2="700.21" y2="142.79" stroke="#c8c8c8" stroke-width="0.7"/>
<line x1="696.73" y1="138.04" x2="697.81" y2="143.43" stroke="#c8c8c8" stroke-width="0.7"/>
<line x1="694.98" y1="138.27" x2="695.34" y2="143.76" stroke="#c8c8c8" stroke-width="0.7"/>
<line x1="693.22" y1="138.27" x2="692.86" y2="143.76" stroke="#c8c8c8" stroke-width="0.7"/>
<line x1="691.47" y1="138.04" x2="690.39" y2="143.43" stroke="#c8c8c8" stroke-width="0.7"/>
<line x1="689.76" y1="137.58" x2="687.99" y2="142.79" stroke="#c8c8c8" stroke-width="0.7"/>
<line x1="688.13" y1="136.91" x2="685.70" y2="141.84" stroke="#c8c8c8" stroke-width="0.7"/>
<line x1="686.60" y1="136.02" x2="683.54" y2="140.60" stroke="#c8c8c8" stroke-width="0.7"/>
<line x1="685.20" y1="134.95" x2="681.57" y2="139.08" stroke="#c8c8c8" stroke-width="0.7"/>
<line x1="683.95" y1="133.70" x2="679.82" y2="137.33" stroke="#c8c8c8" stroke-width="0.7"/>
<line x1="682.88" y1="132.30" x2="678.30" y2="135.36" stroke="#c8c8c8" stroke-width="0.7"/>
<line x1="681.99" y1="130.77" x2="677.06" y2="133.20" stroke="#c8c8c8" stroke-width="0.7"/>
<line x1="681.32" y1="129.14" x2="676.11" y2="130.91" stroke="#c8c8c8" stroke-width="0.7"/>
<line x1="680.86" y1="127.43" x2="675.47" y2="128.51" stroke="#c8c8c8" stroke-width="0.7"/>
<line x1="680.63" y1="125.68" x2="675.14" y2="126.04" stroke="#c8c8c8" stroke-width="0.7"/>
<line x1="680.63" y1="123.92" x2="675.14" y2="123.56" stroke="#c8c8c8" stroke-width="0.7"/>
<line x1="680.86" y1="122.17" x2="675.47" y2="121.09" stroke="#c8c8c8" stroke-width="0.7"/>
<line x1="681.32" y1="120.46" x2="676.11" y2="118.69" stroke="#c8c8c8" stroke-width="0.7"/>
<line x1="681.99" y1="118.83" x2="677.06" y2="116.40" stroke="#c8c8c8" stroke-width="0.7"/>
<line x1="682.88" y1="117.30" x2="678.30" y2="114.24" stroke="#c8c8c8" stroke-width="0.7"/>
<line x1="683.95" y1="115.90" x2="679.82" y2="112.27" stroke="#c8c8c8" stroke-width="0.7"/>
<line x1="685.20" y1="114.65" x2="681.57" y2="110.52" stroke="#c8c8c8" stroke-width="0.7"/>
<line x1="686.60" y1="113.58" x2="683.54" y2="109.00" stroke="#c8c8c8" stroke-width="0.7"/>
<line x1="688.13" y1="112.69" x2="685.70" y2="107.76" stroke="#c8c8c8" stroke-width="0.7"/>
<line x1="689.76" y1="112.02" x2="687.99" y2="106.81" stroke="#c8c8c8" stroke-width="0.7"/>
<line x1="691.47" y1="111.56" x2="690.39" y2="106.17" stroke="#c8c8c8" stroke-width="0.7"/>
<line x1="693.22" y1="111.33" x2="692.86" y2="105.84" stroke="#c8c8c8" stroke-width="0.7"/>
<line x1="694.98" y1="111.33" x2="695.34" y2="105.84" stroke="#c8c8c8" stroke-width="0.7"/>
<line x1="696.73" y1="111.56" x2="697.81" y2="106.17" stroke="#c8c8c8" stroke-width="0.7"/>
<line x1="698.44" y1="112.02" x2="700.21" y2="106.81" stroke="#c8c8c8" stroke-width="0.7"/>
<line x1="700.07" y1="112.69" x2="702.50" y2="107.76" stroke="#c8c8c8" stroke-width="0.7"/>
<line x1="701.60" y1="113.58" x2="704.66" y2="109.00" stroke="#c8c8c8" stroke-width="0.7"/>
<line x1="703.00" y1="114.65" x2="706.63" y2="110.52" stroke="#c8c8c8" stroke-width="0.7"/>
<line x1="704.25" y1="115.90" x2="708.38" y2="112.27" stroke="#c8c8c8" stroke-width="0.7"/>
<line x1="705.32" y1="117.30" x2="709.90" y2="114.24" stroke="#c8c8c8" stroke-width="0.7"/>
<line x1="706.21" y1="118.83" x2="711.14" y2="116.40" stroke="#c8c8c8" stroke-width="0.7"/>
<line x1="706.88" y1="120.46" x2="712.09" y2="118.69" stroke="#c8c8c8" stroke-width="0.7"/>
<line x1="707.34" y1="122.17" x2="712.73" y2="121.09" stroke="#c8c8c8" stroke-width="0.7"/>
<line x1="707.57" y1="123.92" x2="713.06" y2="123.56" stroke="#c8c8c8" stroke-width="0.7"/>
<path d="M672.9,124.8 A21.2,21.2 0 1,0 715.3000000000001,124.8 A21.2,21.2 0 1,0 672.9,124.8 Z M694.10,106.70 L710.10,115.75 L710.10,133.85 L694.10,142.90 L678.10,133.85 L678.10,115.75 Z" fill="#fff" fill-rule="evenodd"/>
<polygon points="694.10,106.70 710.10,115.75 710.10,133.85 694.10,142.90 678.10,133.85 678.10,115.75" fill="none" stroke="#262626" stroke-width="1.25"/>
<circle cx="694.1" cy="124.8" r="14.0" fill="#fff" stroke="#3a3a3a" stroke-width="0.9"/>
<ellipse cx="699.70" cy="124.80" rx="5.2" ry="2.1" fill="#333"/>
<ellipse cx="688.50" cy="124.80" rx="5.2" ry="2.1" fill="#333"/>
<ellipse cx="694.10" cy="130.40" rx="2.1" ry="5.2" fill="#333"/>
<ellipse cx="694.10" cy="119.20" rx="2.1" ry="5.2" fill="#333"/>
<path d="M685.6,124.8 H702.6 M694.1,116.3 V133.3" stroke="#8a8a8a" stroke-width="0.7"/>
<circle cx="694.1" cy="124.8" r="1.3" fill="#e8e8e8"/>
<circle cx="694.1" cy="228.2" r="22.1" fill="none" stroke="#333" stroke-width="1.25"/>
<polygon points="694.10,210.10 710.10,219.15 710.10,237.25 694.10,246.30 678.10,237.25 678.10,219.15" fill="#8e8e8e" stroke="none"/>
<line x1="707.57" y1="229.08" x2="713.06" y2="229.44" stroke="#c8c8c8" stroke-width="0.7"/>
<line x1="707.34" y1="230.83" x2="712.73" y2="231.91" stroke="#c8c8c8" stroke-width="0.7"/>
<line x1="706.88" y1="232.54" x2="712.09" y2="234.31" stroke="#c8c8c8" stroke-width="0.7"/>
<line x1="706.21" y1="234.17" x2="711.14" y2="236.60" stroke="#c8c8c8" stroke-width="0.7"/>
<line x1="705.32" y1="235.70" x2="709.90" y2="238.76" stroke="#c8c8c8" stroke-width="0.7"/>
<line x1="704.25" y1="237.10" x2="708.38" y2="240.73" stroke="#c8c8c8" stroke-width="0.7"/>
<line x1="703.00" y1="238.35" x2="706.63" y2="242.48" stroke="#c8c8c8" stroke-width="0.7"/>
<line x1="701.60" y1="239.42" x2="704.66" y2="244.00" stroke="#c8c8c8" stroke-width="0.7"/>
<line x1="700.07" y1="240.31" x2="702.50" y2="245.24" stroke="#c8c8c8" stroke-width="0.7"/>
<line x1="698.44" y1="240.98" x2="700.21" y2="246.19" stroke="#c8c8c8" stroke-width="0.7"/>
<line x1="696.73" y1="241.44" x2="697.81" y2="246.83" stroke="#c8c8c8" stroke-width="0.7"/>
<line x1="694.98" y1="241.67" x2="695.34" y2="247.16" stroke="#c8c8c8" stroke-width="0.7"/>
<line x1="693.22" y1="241.67" x2="692.86" y2="247.16" stroke="#c8c8c8" stroke-width="0.7"/>
<line x1="691.47" y1="241.44" x2="690.39" y2="246.83" stroke="#c8c8c8" stroke-width="0.7"/>
<line x1="689.76" y1="240.98" x2="687.99" y2="246.19" stroke="#c8c8c8" stroke-width="0.7"/>
<line x1="688.13" y1="240.31" x2="685.70" y2="245.24" stroke="#c8c8c8" stroke-width="0.7"/>
<line x1="686.60" y1="239.42" x2="683.54" y2="244.00" stroke="#c8c8c8" stroke-width="0.7"/>
<line x1="685.20" y1="238.35" x2="681.57" y2="242.48" stroke="#c8c8c8" stroke-width="0.7"/>
<line x1="683.95" y1="237.10" x2="679.82" y2="240.73" stroke="#c8c8c8" stroke-width="0.7"/>
<line x1="682.88" y1="235.70" x2="678.30" y2="238.76" stroke="#c8c8c8" stroke-width="0.7"/>
<line x1="681.99" y1="234.17" x2="677.06" y2="236.60" stroke="#c8c8c8" stroke-width="0.7"/>
<line x1="681.32" y1="232.54" x2="676.11" y2="234.31" stroke="#c8c8c8" stroke-width="0.7"/>
<line x1="680.86" y1="230.83" x2="675.47" y2="231.91" stroke="#c8c8c8" stroke-width="0.7"/>
<line x1="680.63" y1="229.08" x2="675.14" y2="229.44" stroke="#c8c8c8" stroke-width="0.7"/>
<line x1="680.63" y1="227.32" x2="675.14" y2="226.96" stroke="#c8c8c8" stroke-width="0.7"/>
<line x1="680.86" y1="225.57" x2="675.47" y2="224.49" stroke="#c8c8c8" stroke-width="0.7"/>
<line x1="681.32" y1="223.86" x2="676.11" y2="222.09" stroke="#c8c8c8" stroke-width="0.7"/>
<line x1="681.99" y1="222.23" x2="677.06" y2="219.80" stroke="#c8c8c8" stroke-width="0.7"/>
<line x1="682.88" y1="220.70" x2="678.30" y2="217.64" stroke="#c8c8c8" stroke-width="0.7"/>
<line x1="683.95" y1="219.30" x2="679.82" y2="215.67" stroke="#c8c8c8" stroke-width="0.7"/>
<line x1="685.20" y1="218.05" x2="681.57" y2="213.92" stroke="#c8c8c8" stroke-width="0.7"/>
<line x1="686.60" y1="216.98" x2="683.54" y2="212.40" stroke="#c8c8c8" stroke-width="0.7"/>
<line x1="688.13" y1="216.09" x2="685.70" y2="211.16" stroke="#c8c8c8" stroke-width="0.7"/>
<line x1="689.76" y1="215.42" x2="687.99" y2="210.21" stroke="#c8c8c8" stroke-width="0.7"/>
<line x1="691.47" y1="214.96" x2="690.39" y2="209.57" stroke="#c8c8c8" stroke-width="0.7"/>
<line x1="693.22" y1="214.73" x2="692.86" y2="209.24" stroke="#c8c8c8" stroke-width="0.7"/>
<line x1="694.98" y1="214.73" x2="695.34" y2="209.24" stroke="#c8c8c8" stroke-width="0.7"/>
<line x1="696.73" y1="214.96" x2="697.81" y2="209.57" stroke="#c8c8c8" stroke-width="0.7"/>
<line x1="698.44" y1="215.42" x2="700.21" y2="210.21" stroke="#c8c8c8" stroke-width="0.7"/>
<line x1="700.07" y1="216.09" x2="702.50" y2="211.16" stroke="#c8c8c8" stroke-width="0.7"/>
<line x1="701.60" y1="216.98" x2="704.66" y2="212.40" stroke="#c8c8c8" stroke-width="0.7"/>
<line x1="703.00" y1="218.05" x2="706.63" y2="213.92" stroke="#c8c8c8" stroke-width="0.7"/>
<line x1="704.25" y1="219.30" x2="708.38" y2="215.67" stroke="#c8c8c8" stroke-width="0.7"/>
<line x1="705.32" y1="220.70" x2="709.90" y2="217.64" stroke="#c8c8c8" stroke-width="0.7"/>
<line x1="706.21" y1="222.23" x2="711.14" y2="219.80" stroke="#c8c8c8" stroke-width="0.7"/>
<line x1="706.88" y1="223.86" x2="712.09" y2="222.09" stroke="#c8c8c8" stroke-width="0.7"/>
<line x1="707.34" y1="225.57" x2="712.73" y2="224.49" stroke="#c8c8c8" stroke-width="0.7"/>
<line x1="707.57" y1="227.32" x2="713.06" y2="226.96" stroke="#c8c8c8" stroke-width="0.7"/>
<path d="M672.9,228.2 A21.2,21.2 0 1,0 715.3000000000001,228.2 A21.2,21.2 0 1,0 672.9,228.2 Z M694.10,210.10 L710.10,219.15 L710.10,237.25 L694.10,246.30 L678.10,237.25 L678.10,219.15 Z" fill="#fff" fill-rule="evenodd"/>
<polygon points="694.10,210.10 710.10,219.15 710.10,237.25 694.10,246.30 678.10,237.25 678.10,219.15" fill="none" stroke="#262626" stroke-width="1.25"/>
<circle cx="694.1" cy="228.2" r="14.0" fill="#fff" stroke="#3a3a3a" stroke-width="0.9"/>
<ellipse cx="699.70" cy="228.20" rx="5.2" ry="2.1" fill="#333"/>
<ellipse cx="688.50" cy="228.20" rx="5.2" ry="2.1" fill="#333"/>
<ellipse cx="694.10" cy="233.80" rx="2.1" ry="5.2" fill="#333"/>
<ellipse cx="694.10" cy="222.60" rx="2.1" ry="5.2" fill="#333"/>
<path d="M685.6,228.2 H702.6 M694.1,219.7 V236.7" stroke="#8a8a8a" stroke-width="0.7"/>
<circle cx="694.1" cy="228.2" r="1.3" fill="#e8e8e8"/>
<circle cx="767.3" cy="124.8" r="22.1" fill="none" stroke="#333" stroke-width="1.25"/>
<polygon points="767.30,106.70 783.30,115.75 783.30,133.85 767.30,142.90 751.30,133.85 751.30,115.75" fill="#8e8e8e" stroke="none"/>
<line x1="780.77" y1="125.68" x2="786.26" y2="126.04" stroke="#c8c8c8" stroke-width="0.7"/>
<line x1="780.54" y1="127.43" x2="785.93" y2="128.51" stroke="#c8c8c8" stroke-width="0.7"/>
<line x1="780.08" y1="129.14" x2="785.29" y2="130.91" stroke="#c8c8c8" stroke-width="0.7"/>
<line x1="779.41" y1="130.77" x2="784.34" y2="133.20" stroke="#c8c8c8" stroke-width="0.7"/>
<line x1="778.52" y1="132.30" x2="783.10" y2="135.36" stroke="#c8c8c8" stroke-width="0.7"/>
<line x1="777.45" y1="133.70" x2="781.58" y2="137.33" stroke="#c8c8c8" stroke-width="0.7"/>
<line x1="776.20" y1="134.95" x2="779.83" y2="139.08" stroke="#c8c8c8" stroke-width="0.7"/>
<line x1="774.80" y1="136.02" x2="777.86" y2="140.60" stroke="#c8c8c8" stroke-width="0.7"/>
<line x1="773.27" y1="136.91" x2="775.70" y2="141.84" stroke="#c8c8c8" stroke-width="0.7"/>
<line x1="771.64" y1="137.58" x2="773.41" y2="142.79" stroke="#c8c8c8" stroke-width="0.7"/>
<line x1="769.93" y1="138.04" x2="771.01" y2="143.43" stroke="#c8c8c8" stroke-width="0.7"/>
<line x1="768.18" y1="138.27" x2="768.54" y2="143.76" stroke="#c8c8c8" stroke-width="0.7"/>
<line x1="766.42" y1="138.27" x2="766.06" y2="143.76" stroke="#c8c8c8" stroke-width="0.7"/>
<line x1="764.67" y1="138.04" x2="763.59" y2="143.43" stroke="#c8c8c8" stroke-width="0.7"/>
<line x1="762.96" y1="137.58" x2="761.19" y2="142.79" stroke="#c8c8c8" stroke-width="0.7"/>
<line x1="761.33" y1="136.91" x2="758.90" y2="141.84" stroke="#c8c8c8" stroke-width="0.7"/>
<line x1="759.80" y1="136.02" x2="756.74" y2="140.60" stroke="#c8c8c8" stroke-width="0.7"/>
<line x1="758.40" y1="134.95" x2="754.77" y2="139.08" stroke="#c8c8c8" stroke-width="0.7"/>
<line x1="757.15" y1="133.70" x2="753.02" y2="137.33" stroke="#c8c8c8" stroke-width="0.7"/>
<line x1="756.08" y1="132.30" x2="751.50" y2="135.36" stroke="#c8c8c8" stroke-width="0.7"/>
<line x1="755.19" y1="130.77" x2="750.26" y2="133.20" stroke="#c8c8c8" stroke-width="0.7"/>
<line x1="754.52" y1="129.14" x2="749.31" y2="130.91" stroke="#c8c8c8" stroke-width="0.7"/>
<line x1="754.06" y1="127.43" x2="748.67" y2="128.51" stroke="#c8c8c8" stroke-width="0.7"/>
<line x1="753.83" y1="125.68" x2="748.34" y2="126.04" stroke="#c8c8c8" stroke-width="0.7"/>
<line x1="753.83" y1="123.92" x2="748.34" y2="123.56" stroke="#c8c8c8" stroke-width="0.7"/>
<line x1="754.06" y1="122.17" x2="748.67" y2="121.09" stroke="#c8c8c8" stroke-width="0.7"/>
<line x1="754.52" y1="120.46" x2="749.31" y2="118.69" stroke="#c8c8c8" stroke-width="0.7"/>
<line x1="755.19" y1="118.83" x2="750.26" y2="116.40" stroke="#c8c8c8" stroke-width="0.7"/>
<line x1="756.08" y1="117.30" x2="751.50" y2="114.24" stroke="#c8c8c8" stroke-width="0.7"/>
<line x1="757.15" y1="115.90" x2="753.02" y2="112.27" stroke="#c8c8c8" stroke-width="0.7"/>
<line x1="758.40" y1="114.65" x2="754.77" y2="110.52" stroke="#c8c8c8" stroke-width="0.7"/>
<line x1="759.80" y1="113.58" x2="756.74" y2="109.00" stroke="#c8c8c8" stroke-width="0.7"/>
<line x1="761.33" y1="112.69" x2="758.90" y2="107.76" stroke="#c8c8c8" stroke-width="0.7"/>
<line x1="762.96" y1="112.02" x2="761.19" y2="106.81" stroke="#c8c8c8" stroke-width="0.7"/>
<line x1="764.67" y1="111.56" x2="763.59" y2="106.17" stroke="#c8c8c8" stroke-width="0.7"/>
<line x1="766.42" y1="111.33" x2="766.06" y2="105.84" stroke="#c8c8c8" stroke-width="0.7"/>
<line x1="768.18" y1="111.33" x2="768.54" y2="105.84" stroke="#c8c8c8" stroke-width="0.7"/>
<line x1="769.93" y1="111.56" x2="771.01" y2="106.17" stroke="#c8c8c8" stroke-width="0.7"/>
<line x1="771.64" y1="112.02" x2="773.41" y2="106.81" stroke="#c8c8c8" stroke-width="0.7"/>
<line x1="773.27" y1="112.69" x2="775.70" y2="107.76" stroke="#c8c8c8" stroke-width="0.7"/>
<line x1="774.80" y1="113.58" x2="777.86" y2="109.00" stroke="#c8c8c8" stroke-width="0.7"/>
<line x1="776.20" y1="114.65" x2="779.83" y2="110.52" stroke="#c8c8c8" stroke-width="0.7"/>
<line x1="777.45" y1="115.90" x2="781.58" y2="112.27" stroke="#c8c8c8" stroke-width="0.7"/>
<line x1="778.52" y1="117.30" x2="783.10" y2="114.24" stroke="#c8c8c8" stroke-width="0.7"/>
<line x1="779.41" y1="118.83" x2="784.34" y2="116.40" stroke="#c8c8c8" stroke-width="0.7"/>
<line x1="780.08" y1="120.46" x2="785.29" y2="118.69" stroke="#c8c8c8" stroke-width="0.7"/>
<line x1="780.54" y1="122.17" x2="785.93" y2="121.09" stroke="#c8c8c8" stroke-width="0.7"/>
<line x1="780.77" y1="123.92" x2="786.26" y2="123.56" stroke="#c8c8c8" stroke-width="0.7"/>
<path d="M746.0999999999999,124.8 A21.2,21.2 0 1,0 788.5,124.8 A21.2,21.2 0 1,0 746.0999999999999,124.8 Z M767.30,106.70 L783.30,115.75 L783.30,133.85 L767.30,142.90 L751.30,133.85 L751.30,115.75 Z" fill="#fff" fill-rule="evenodd"/>
<polygon points="767.30,106.70 783.30,115.75 783.30,133.85 767.30,142.90 751.30,133.85 751.30,115.75" fill="none" stroke="#262626" stroke-width="1.25"/>
<circle cx="767.3" cy="124.8" r="14.0" fill="#fff" stroke="#3a3a3a" stroke-width="0.9"/>
<ellipse cx="772.90" cy="124.80" rx="5.2" ry="2.1" fill="#333"/>
<ellipse cx="761.70" cy="124.80" rx="5.2" ry="2.1" fill="#333"/>
<ellipse cx="767.30" cy="130.40" rx="2.1" ry="5.2" fill="#333"/>
<ellipse cx="767.30" cy="119.20" rx="2.1" ry="5.2" fill="#333"/>
<path d="M758.8,124.8 H775.8 M767.3,116.3 V133.3" stroke="#8a8a8a" stroke-width="0.7"/>
<circle cx="767.3" cy="124.8" r="1.3" fill="#e8e8e8"/>
<circle cx="767.3" cy="228.2" r="22.1" fill="none" stroke="#333" stroke-width="1.25"/>
<polygon points="767.30,210.10 783.30,219.15 783.30,237.25 767.30,246.30 751.30,237.25 751.30,219.15" fill="#8e8e8e" stroke="none"/>
<line x1="780.77" y1="229.08" x2="786.26" y2="229.44" stroke="#c8c8c8" stroke-width="0.7"/>
<line x1="780.54" y1="230.83" x2="785.93" y2="231.91" stroke="#c8c8c8" stroke-width="0.7"/>
<line x1="780.08" y1="232.54" x2="785.29" y2="234.31" stroke="#c8c8c8" stroke-width="0.7"/>
<line x1="779.41" y1="234.17" x2="784.34" y2="236.60" stroke="#c8c8c8" stroke-width="0.7"/>
<line x1="778.52" y1="235.70" x2="783.10" y2="238.76" stroke="#c8c8c8" stroke-width="0.7"/>
<line x1="777.45" y1="237.10" x2="781.58" y2="240.73" stroke="#c8c8c8" stroke-width="0.7"/>
<line x1="776.20" y1="238.35" x2="779.83" y2="242.48" stroke="#c8c8c8" stroke-width="0.7"/>
<line x1="774.80" y1="239.42" x2="777.86" y2="244.00" stroke="#c8c8c8" stroke-width="0.7"/>
<line x1="773.27" y1="240.31" x2="775.70" y2="245.24" stroke="#c8c8c8" stroke-width="0.7"/>
<line x1="771.64" y1="240.98" x2="773.41" y2="246.19" stroke="#c8c8c8" stroke-width="0.7"/>
<line x1="769.93" y1="241.44" x2="771.01" y2="246.83" stroke="#c8c8c8" stroke-width="0.7"/>
<line x1="768.18" y1="241.67" x2="768.54" y2="247.16" stroke="#c8c8c8" stroke-width="0.7"/>
<line x1="766.42" y1="241.67" x2="766.06" y2="247.16" stroke="#c8c8c8" stroke-width="0.7"/>
<line x1="764.67" y1="241.44" x2="763.59" y2="246.83" stroke="#c8c8c8" stroke-width="0.7"/>
<line x1="762.96" y1="240.98" x2="761.19" y2="246.19" stroke="#c8c8c8" stroke-width="0.7"/>
<line x1="761.33" y1="240.31" x2="758.90" y2="245.24" stroke="#c8c8c8" stroke-width="0.7"/>
<line x1="759.80" y1="239.42" x2="756.74" y2="244.00" stroke="#c8c8c8" stroke-width="0.7"/>
<line x1="758.40" y1="238.35" x2="754.77" y2="242.48" stroke="#c8c8c8" stroke-width="0.7"/>
<line x1="757.15" y1="237.10" x2="753.02" y2="240.73" stroke="#c8c8c8" stroke-width="0.7"/>
<line x1="756.08" y1="235.70" x2="751.50" y2="238.76" stroke="#c8c8c8" stroke-width="0.7"/>
<line x1="755.19" y1="234.17" x2="750.26" y2="236.60" stroke="#c8c8c8" stroke-width="0.7"/>
<line x1="754.52" y1="232.54" x2="749.31" y2="234.31" stroke="#c8c8c8" stroke-width="0.7"/>
<line x1="754.06" y1="230.83" x2="748.67" y2="231.91" stroke="#c8c8c8" stroke-width="0.7"/>
<line x1="753.83" y1="229.08" x2="748.34" y2="229.44" stroke="#c8c8c8" stroke-width="0.7"/>
<line x1="753.83" y1="227.32" x2="748.34" y2="226.96" stroke="#c8c8c8" stroke-width="0.7"/>
<line x1="754.06" y1="225.57" x2="748.67" y2="224.49" stroke="#c8c8c8" stroke-width="0.7"/>
<line x1="754.52" y1="223.86" x2="749.31" y2="222.09" stroke="#c8c8c8" stroke-width="0.7"/>
<line x1="755.19" y1="222.23" x2="750.26" y2="219.80" stroke="#c8c8c8" stroke-width="0.7"/>
<line x1="756.08" y1="220.70" x2="751.50" y2="217.64" stroke="#c8c8c8" stroke-width="0.7"/>
<line x1="757.15" y1="219.30" x2="753.02" y2="215.67" stroke="#c8c8c8" stroke-width="0.7"/>
<line x1="758.40" y1="218.05" x2="754.77" y2="213.92" stroke="#c8c8c8" stroke-width="0.7"/>
<line x1="759.80" y1="216.98" x2="756.74" y2="212.40" stroke="#c8c8c8" stroke-width="0.7"/>
<line x1="761.33" y1="216.09" x2="758.90" y2="211.16" stroke="#c8c8c8" stroke-width="0.7"/>
<line x1="762.96" y1="215.42" x2="761.19" y2="210.21" stroke="#c8c8c8" stroke-width="0.7"/>
<line x1="764.67" y1="214.96" x2="763.59" y2="209.57" stroke="#c8c8c8" stroke-width="0.7"/>
<line x1="766.42" y1="214.73" x2="766.06" y2="209.24" stroke="#c8c8c8" stroke-width="0.7"/>
<line x1="768.18" y1="214.73" x2="768.54" y2="209.24" stroke="#c8c8c8" stroke-width="0.7"/>
<line x1="769.93" y1="214.96" x2="771.01" y2="209.57" stroke="#c8c8c8" stroke-width="0.7"/>
<line x1="771.64" y1="215.42" x2="773.41" y2="210.21" stroke="#c8c8c8" stroke-width="0.7"/>
<line x1="773.27" y1="216.09" x2="775.70" y2="211.16" stroke="#c8c8c8" stroke-width="0.7"/>
<line x1="774.80" y1="216.98" x2="777.86" y2="212.40" stroke="#c8c8c8" stroke-width="0.7"/>
<line x1="776.20" y1="218.05" x2="779.83" y2="213.92" stroke="#c8c8c8" stroke-width="0.7"/>
<line x1="777.45" y1="219.30" x2="781.58" y2="215.67" stroke="#c8c8c8" stroke-width="0.7"/>
<line x1="778.52" y1="220.70" x2="783.10" y2="217.64" stroke="#c8c8c8" stroke-width="0.7"/>
<line x1="779.41" y1="222.23" x2="784.34" y2="219.80" stroke="#c8c8c8" stroke-width="0.7"/>
<line x1="780.08" y1="223.86" x2="785.29" y2="222.09" stroke="#c8c8c8" stroke-width="0.7"/>
<line x1="780.54" y1="225.57" x2="785.93" y2="224.49" stroke="#c8c8c8" stroke-width="0.7"/>
<line x1="780.77" y1="227.32" x2="786.26" y2="226.96" stroke="#c8c8c8" stroke-width="0.7"/>
<path d="M746.0999999999999,228.2 A21.2,21.2 0 1,0 788.5,228.2 A21.2,21.2 0 1,0 746.0999999999999,228.2 Z M767.30,210.10 L783.30,219.15 L783.30,237.25 L767.30,246.30 L751.30,237.25 L751.30,219.15 Z" fill="#fff" fill-rule="evenodd"/>
<polygon points="767.30,210.10 783.30,219.15 783.30,237.25 767.30,246.30 751.30,237.25 751.30,219.15" fill="none" stroke="#262626" stroke-width="1.25"/>
<circle cx="767.3" cy="228.2" r="14.0" fill="#fff" stroke="#3a3a3a" stroke-width="0.9"/>
<ellipse cx="772.90" cy="228.20" rx="5.2" ry="2.1" fill="#333"/>
<ellipse cx="761.70" cy="228.20" rx="5.2" ry="2.1" fill="#333"/>
<ellipse cx="767.30" cy="233.80" rx="2.1" ry="5.2" fill="#333"/>
<ellipse cx="767.30" cy="222.60" rx="2.1" ry="5.2" fill="#333"/>
<path d="M758.8,228.2 H775.8 M767.3,219.7 V236.7" stroke="#8a8a8a" stroke-width="0.7"/>
<circle cx="767.3" cy="228.2" r="1.3" fill="#e8e8e8"/>
<line x1="458.8" y1="129.5" x2="478.2" y2="129.5" stroke="#2a2a2a" stroke-width="1" />
<line x1="458.8" y1="138.5" x2="478.2" y2="138.5" stroke="#2a2a2a" stroke-width="1" />
<line x1="458.8" y1="214.5" x2="479.3" y2="214.5" stroke="#2a2a2a" stroke-width="1" />
<line x1="458.8" y1="223.5" x2="479.3" y2="223.5" stroke="#2a2a2a" stroke-width="1" />
<line x1="458.5" y1="129" x2="458.5" y2="354" stroke="#2a2a2a" stroke-width="1" />
<line x1="496.5" y1="141.8" x2="496.5" y2="211" stroke="#2a2a2a" stroke-width="1" />
<line x1="478.5" y1="234.5" x2="478.5" y2="330" stroke="#2a2a2a" stroke-width="1" />
<line x1="500.2" y1="129.5" x2="503" y2="129.5" stroke="#2a2a2a" stroke-width="1" />
<line x1="500.2" y1="138.5" x2="503" y2="138.5" stroke="#2a2a2a" stroke-width="1" />
<line x1="500.2" y1="214.5" x2="503" y2="214.5" stroke="#2a2a2a" stroke-width="1" />
<line x1="500.2" y1="223.5" x2="503" y2="223.5" stroke="#2a2a2a" stroke-width="1" />
<rect x="461.5" y="168.5" width="35.0" height="17.0" rx="8.45" fill="#fff" stroke="#2a2a2a" stroke-width="1"/>
<line x1="469" y1="176.5" x2="497" y2="176.5" stroke="#7a7a7a" stroke-width="1.3" />
<line x1="478.5" y1="159.7" x2="478.5" y2="204.7" stroke="#2a2a2a" stroke-width="1" />
<rect x="478.2" y="119" width="22.0" height="22.80000000000001" rx="1.8" fill="#fff" stroke="#808080" stroke-width="1.5"/>
<circle cx="489.3" cy="130.6" r="7.5" fill="none" stroke="#222" stroke-width="1.35"/>
<path d="M484.3,130.6 H494.3 M489.3,125.6 V135.6" stroke="#222" stroke-width="1.9" stroke-linecap="round"/>
<path d="M485.8,130.6 H492.8 M489.3,127.1 V134.1" stroke="#777" stroke-width="0.6"/>
<rect x="479.2" y="211" width="21.0" height="23.5" rx="1.8" fill="#fff" stroke="#808080" stroke-width="1.5"/>
<circle cx="489.4" cy="222.6" r="7.5" fill="none" stroke="#222" stroke-width="1.35"/>
<path d="M484.4,222.6 H494.4 M489.4,217.6 V227.6" stroke="#222" stroke-width="1.9" stroke-linecap="round"/>
<path d="M485.9,222.6 H492.9 M489.4,219.1 V226.1" stroke="#777" stroke-width="0.6"/>
<line x1="827.5" y1="128.5" x2="846.4" y2="128.5" stroke="#2a2a2a" stroke-width="1" />
<line x1="827.5" y1="138.5" x2="846.4" y2="138.5" stroke="#2a2a2a" stroke-width="1" />
<line x1="846.4" y1="128.5" x2="891" y2="128.5" stroke="#2a2a2a" stroke-width="1" />
<line x1="827" y1="215.5" x2="846.4" y2="215.5" stroke="#2a2a2a" stroke-width="1" />
<line x1="827" y1="223.5" x2="846.4" y2="223.5" stroke="#2a2a2a" stroke-width="1" />
<line x1="846.4" y1="224.5" x2="891" y2="224.5" stroke="#2a2a2a" stroke-width="1" />
<line x1="846.5" y1="128.7" x2="846.5" y2="355" stroke="#2a2a2a" stroke-width="1" />
<line x1="809" y1="141.8" x2="809" y2="212" stroke="#7a7a7a" stroke-width="1.4" />
<line x1="827.5" y1="235" x2="827.5" y2="330" stroke="#2a2a2a" stroke-width="1" />
<line x1="802" y1="129.5" x2="804.5" y2="129.5" stroke="#2a2a2a" stroke-width="1" />
<line x1="802" y1="138.5" x2="804.5" y2="138.5" stroke="#2a2a2a" stroke-width="1" />
<line x1="802" y1="215.5" x2="804.5" y2="215.5" stroke="#2a2a2a" stroke-width="1" />
<line x1="802" y1="223.5" x2="804.5" y2="223.5" stroke="#2a2a2a" stroke-width="1" />
<line x1="797.5" y1="158.6" x2="797.5" y2="194.2" stroke="#7a7a7a" stroke-width="1" />
<line x1="793.5" y1="158.5" x2="797.8" y2="158.5" stroke="#2a2a2a" stroke-width="1" />
<line x1="793.5" y1="194.5" x2="797.8" y2="194.5" stroke="#2a2a2a" stroke-width="1" />
<rect x="810.5" y="167.5" width="34.0" height="18.0" rx="8.9" fill="#fff" stroke="#2a2a2a" stroke-width="1"/>
<line x1="810" y1="176.5" x2="835.5" y2="176.5" stroke="#7a7a7a" stroke-width="1.3" />
<line x1="827.5" y1="163" x2="827.5" y2="205" stroke="#2a2a2a" stroke-width="1" />
<rect x="804.5" y="119.3" width="23.0" height="22.500000000000014" rx="1.8" fill="#fff" stroke="#808080" stroke-width="1.5"/>
<circle cx="815.7" cy="130.7" r="7.5" fill="none" stroke="#222" stroke-width="1.35"/>
<path d="M810.7,130.7 H820.7 M815.7,125.69999999999999 V135.7" stroke="#222" stroke-width="1.9" stroke-linecap="round"/>
<path d="M812.2,130.7 H819.2 M815.7,127.19999999999999 V134.2" stroke="#777" stroke-width="0.6"/>
<rect x="804.2" y="212" width="23.0" height="23" rx="1.8" fill="#fff" stroke="#808080" stroke-width="1.5"/>
<circle cx="815.6" cy="223.4" r="7.5" fill="none" stroke="#222" stroke-width="1.35"/>
<path d="M810.6,223.4 H820.6 M815.6,218.4 V228.4" stroke="#222" stroke-width="1.9" stroke-linecap="round"/>
<path d="M812.1,223.4 H819.1 M815.6,219.9 V226.9" stroke="#777" stroke-width="0.6"/>
<line x1="844.6" y1="168.5" x2="871" y2="168.5" stroke="#2a2a2a" stroke-width="1" />
<line x1="844.6" y1="185.5" x2="871" y2="185.5" stroke="#2a2a2a" stroke-width="1" />
<line x1="590.5" y1="52.5" x2="590.5" y2="74" stroke="#7a7a7a" stroke-width="1.2" />
<line x1="647.5" y1="52.5" x2="647.5" y2="74" stroke="#7a7a7a" stroke-width="1.2" />
<line x1="588" y1="55.5" x2="601" y2="55.5" stroke="#111" stroke-width="1" />
<polygon points="590.7,55.7 597.7,53.900000000000006 597.7,57.5" fill="#111"/>
<line x1="635" y1="55.5" x2="650.5" y2="55.5" stroke="#111" stroke-width="1" />
<polygon points="647.8,55.7 640.8,53.900000000000006 640.8,57.5" fill="#111"/>
<text x="602.6" y="60.7" font-family="Liberation Sans" font-size="14.3" fill="#2a2a2a" stroke="#2a2a2a" stroke-width="0.3" textLength="28.6" lengthAdjust="spacingAndGlyphs">30.0</text>
<line x1="693.5" y1="51" x2="693.5" y2="107" stroke="#2a2a2a" stroke-width="1" />
<line x1="767.5" y1="51" x2="767.5" y2="107" stroke="#2a2a2a" stroke-width="1" />
<line x1="693.7" y1="54.5" x2="767.4" y2="54.5" stroke="#222" stroke-width="1" />
<polygon points="693.7,54.6 701.7,52.800000000000004 701.7,56.4" fill="#111"/>
<polygon points="767.4,54.6 759.4,52.800000000000004 759.4,56.4" fill="#111"/>
<text x="694" y="49.6" font-family="Liberation Sans" font-size="18.8" font-weight="bold" fill="#111" textLength="66.3" lengthAdjust="spacingAndGlyphs">D=36.0</text>
<line x1="794.5" y1="53.5" x2="794.5" y2="74" stroke="#2a2a2a" stroke-width="1" />
<line x1="802.5" y1="53.5" x2="802.5" y2="74" stroke="#2a2a2a" stroke-width="1" />
<line x1="781.5" y1="56.5" x2="794.2" y2="56.5" stroke="#111" stroke-width="1" />
<polygon points="794.2,56.8 787.2,55.0 787.2,58.599999999999994" fill="#111"/>
<line x1="794.2" y1="56.5" x2="815" y2="56.5" stroke="#111" stroke-width="1" />
<polygon points="802.2,56.8 809.2,55.0 809.2,58.599999999999994" fill="#111"/>
<text x="823.5" y="62.8" font-family="Liberation Sans" font-size="14" fill="#2a2a2a" stroke="#2a2a2a" stroke-width="0.3" textLength="19.6" lengthAdjust="spacingAndGlyphs">3.0</text>
<line x1="795" y1="157.5" x2="812" y2="157.5" stroke="#111" stroke-width="1" />
<polygon points="812,157.9 803,156.1 803,159.70000000000002" fill="#111"/>
<line x1="841" y1="157.5" x2="856.5" y2="157.5" stroke="#111" stroke-width="1" />
<polygon points="842,157.9 851,156.1 851,159.70000000000002" fill="#111"/>
<text x="812.4" y="162" font-family="Liberation Sans" font-size="15" fill="#2a2a2a" stroke="#2a2a2a" stroke-width="0.3" textLength="28" lengthAdjust="spacingAndGlyphs">15.0</text>
<line x1="887.5" y1="128.7" x2="887.5" y2="224.4" stroke="#222" stroke-width="1" />
<polygon points="887.2,128.7 885.4000000000001,136.7 889.0,136.7" fill="#111"/>
<polygon points="887.2,224.4 885.4000000000001,216.4 889.0,216.4" fill="#111"/>
<rect x="880" y="159.5" width="14" height="36" fill="#fff"/>
<text transform="translate(881.4,161.4) rotate(90)" font-family="Liberation Sans" font-size="15.2" fill="#2a2a2a" stroke="#2a2a2a" stroke-width="0.3" textLength="32.4" lengthAdjust="spacingAndGlyphs">35.0</text>
<line x1="868.5" y1="155.5" x2="868.5" y2="198" stroke="#222" stroke-width="1" />
<polygon points="868,168.2 866.2,160.2 869.8,160.2" fill="#111"/>
<polygon points="868,185.2 866.2,193.2 869.8,193.2" fill="#111"/>
<text transform="translate(873.6,222) rotate(-90)" font-family="Liberation Sans" font-size="15.2" fill="#2a2a2a" stroke="#2a2a2a" stroke-width="0.3" textLength="22" lengthAdjust="spacingAndGlyphs">6.0</text>
<line x1="503.5" y1="278.6" x2="503.5" y2="304.5" stroke="#2a2a2a" stroke-width="1" />
<line x1="801.5" y1="278.6" x2="801.5" y2="304.5" stroke="#2a2a2a" stroke-width="1" />
<line x1="501" y1="302.5" x2="804" y2="302.5" stroke="#222" stroke-width="1" />
<polygon points="503.5,302 511.5,300 511.5,304" fill="#111"/>
<polygon points="801.5,302 793.5,300 793.5,304" fill="#111"/>
<line x1="475.5" y1="327.5" x2="830" y2="327.5" stroke="#222" stroke-width="1" />
<polygon points="478.2,327.8 486.2,325.8 486.2,329.8" fill="#111"/>
<polygon points="827.5,327.8 819.5,325.8 819.5,329.8" fill="#111"/>
<line x1="457" y1="351.5" x2="849" y2="351.5" stroke="#222" stroke-width="1" />
<polygon points="459.2,351.6 467.2,349.6 467.2,353.6" fill="#111"/>
<polygon points="846.6,351.6 838.6,349.6 838.6,353.6" fill="#111"/>
<text x="609.4" y="300" font-family="Liberation Sans" font-size="19.6" fill="#111" stroke="#111" stroke-width="0.45" textLength="88" lengthAdjust="spacingAndGlyphs">A=36.0×P</text>
<text x="609.4" y="323.4" font-family="Liberation Sans" font-size="19.6" fill="#111" stroke="#111" stroke-width="0.45" textLength="120.6" lengthAdjust="spacingAndGlyphs">C=36.0×P+20</text>
<text x="609.4" y="348.3" font-family="Liberation Sans" font-size="19.6" fill="#111" stroke="#111" stroke-width="0.45" textLength="120.6" lengthAdjust="spacingAndGlyphs">B≥36.0×P+26</text>
</svg>
</body></html>
